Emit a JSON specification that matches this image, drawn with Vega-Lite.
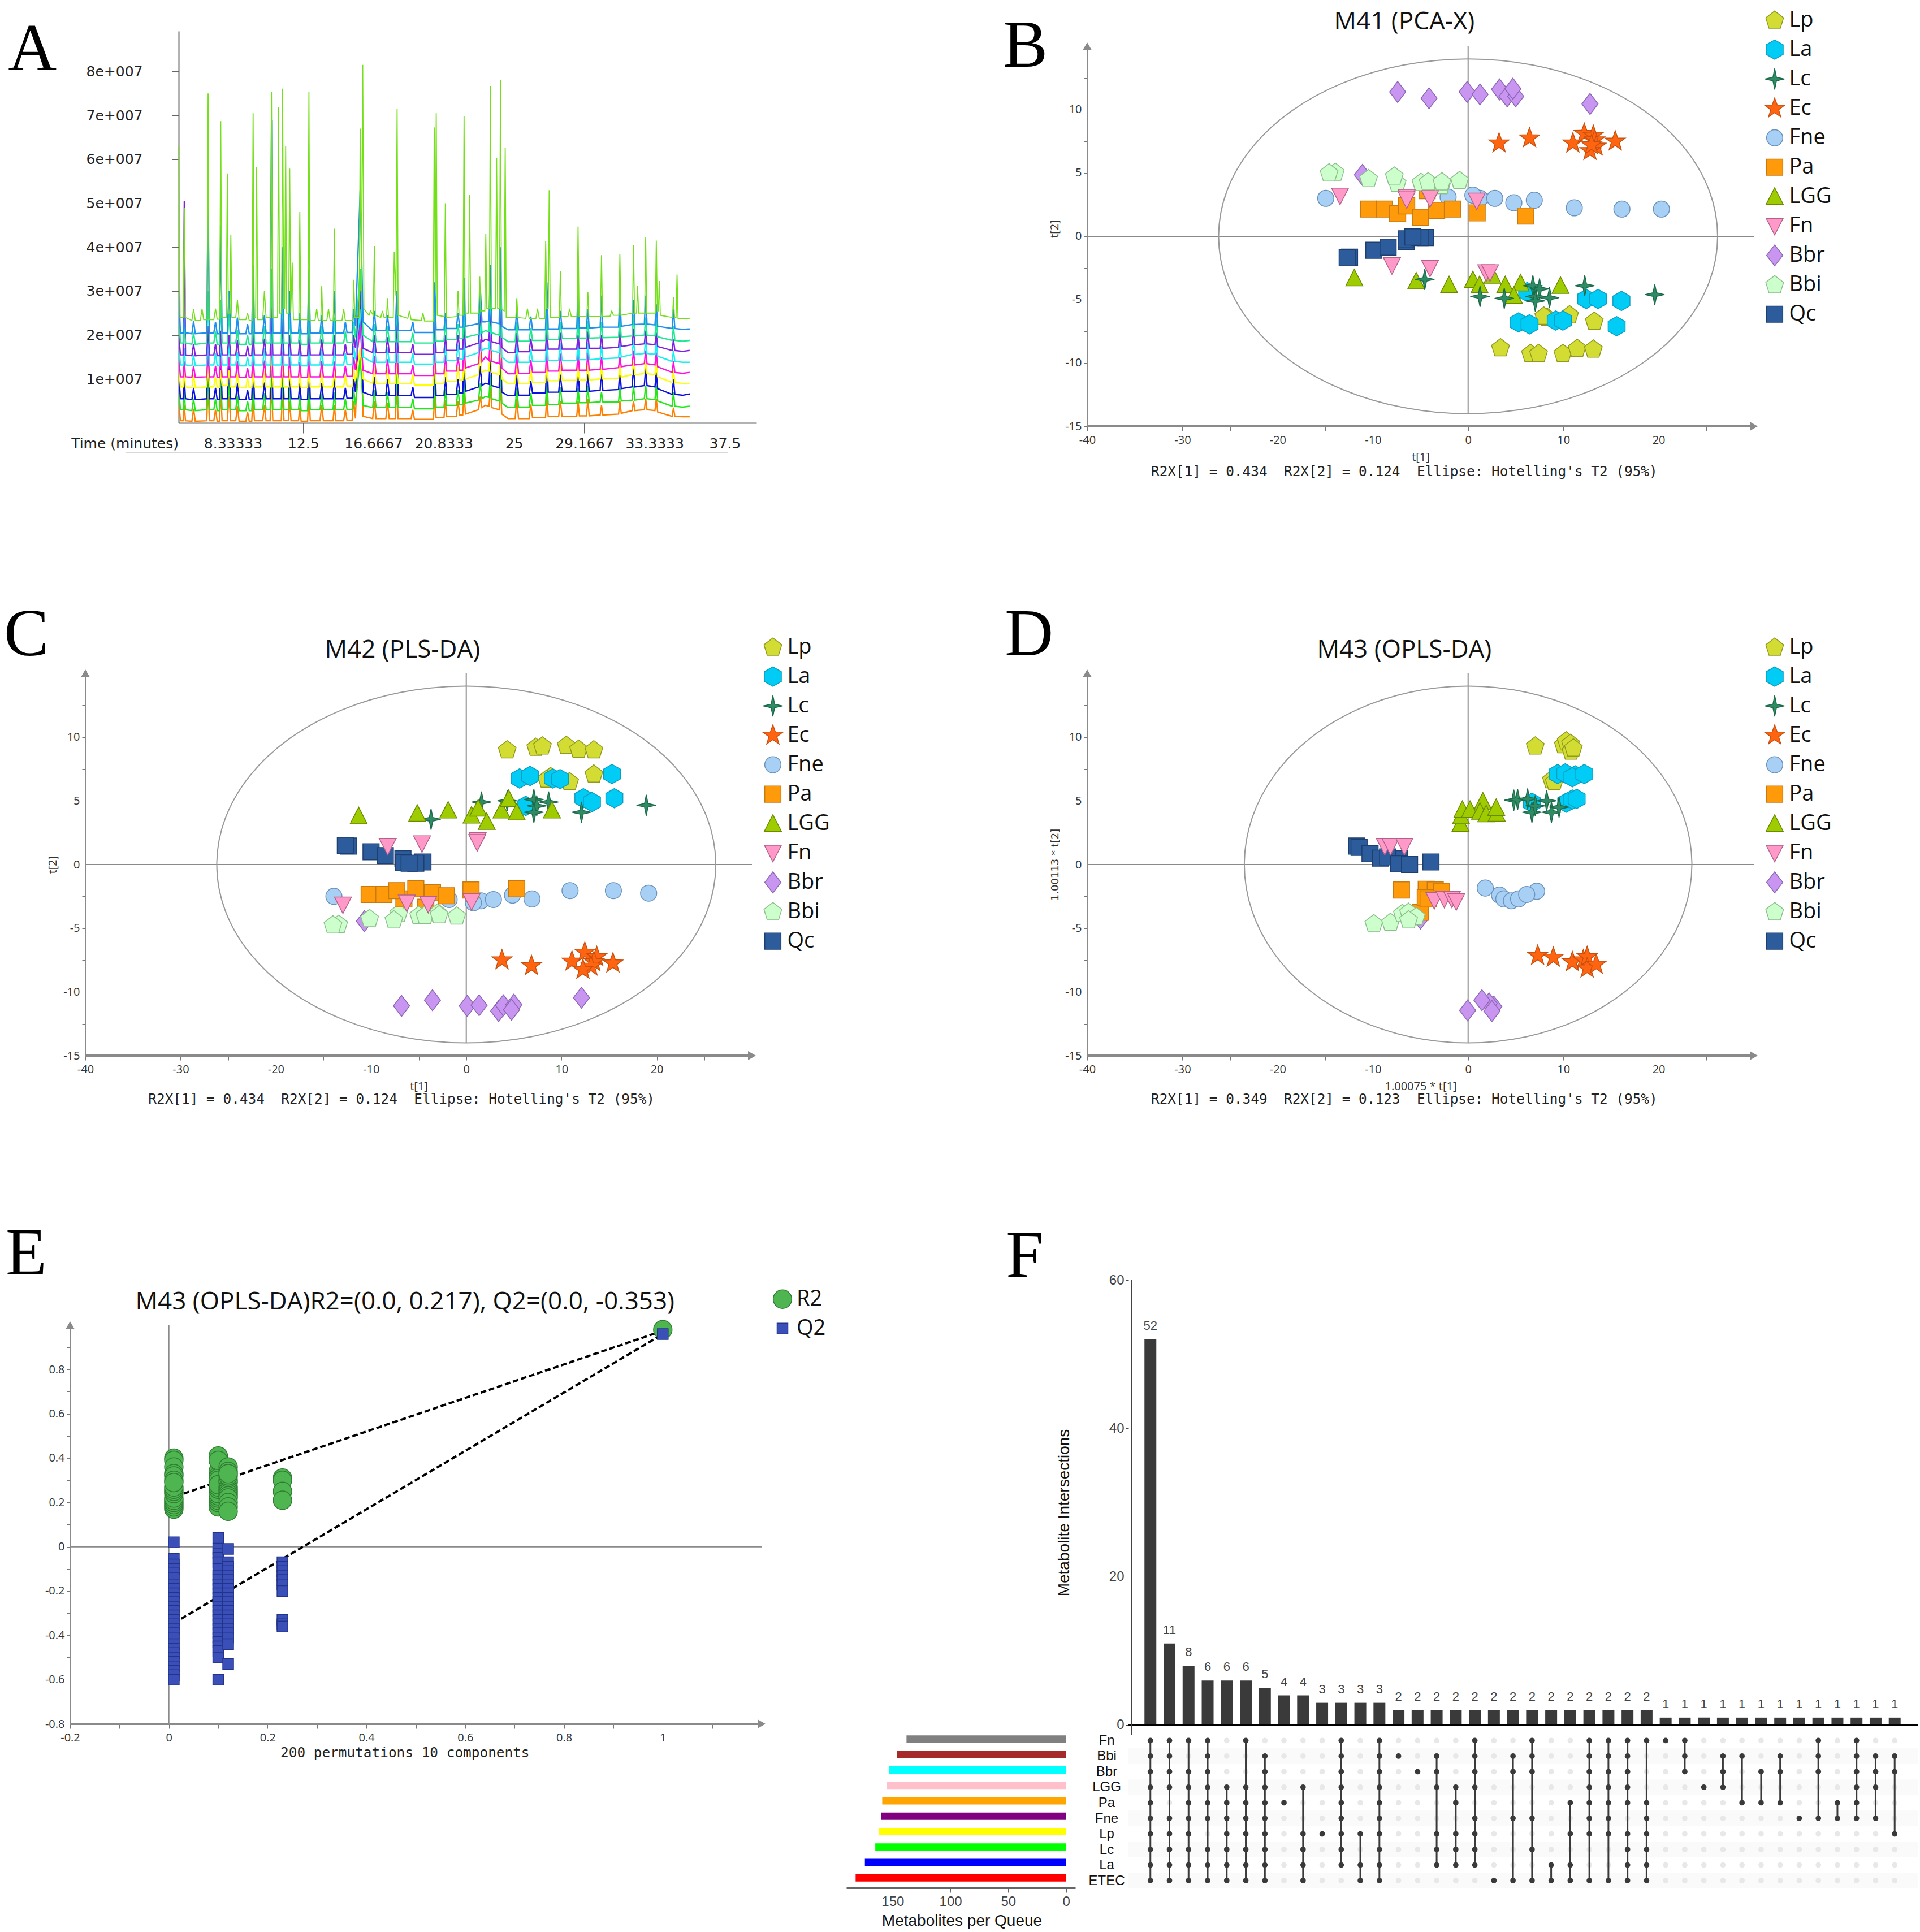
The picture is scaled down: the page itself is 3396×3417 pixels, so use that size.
{"$schema":"https://vega.github.io/schema/vega-lite/v6.json","padding":{"left":0,"top":10,"right":0,"bottom":0},"background":"white",
"config":{"view":{"stroke":null},"axis":{"grid":false,"labelFont":"Open Sans","titleFont":"Open Sans","labelFontSize":20,"titleFontSize":20,"labelColor":"#333","titleColor":"#333","titleFontWeight":"normal","tickColor":"#777","domainColor":"#777"},"text":{"font":"Open Sans"}},
"datasets":{
"pb":[
{"g":"Bbr","x":-7.4,"y":11.4},{"g":"Bbr","x":-4.1,"y":10.9},{"g":"Bbr","x":-0.1,"y":11.4},{"g":"Bbr","x":1.25,"y":11.2},{"g":"Bbr","x":3.3,"y":11.6},{"g":"Bbr","x":4.1,"y":11.05},{"g":"Bbr","x":5,"y":11.05},{"g":"Bbr","x":4.7,"y":11.65},{"g":"Bbr","x":12.8,"y":10.45},{"g":"Bbr","x":-11.1,"y":4.85},
{"g":"Ec","x":3.25,"y":7.35},{"g":"Ec","x":6.45,"y":7.75},{"g":"Ec","x":11,"y":7.35},{"g":"Ec","x":12.2,"y":8.1},{"g":"Ec","x":13.15,"y":7.95},{"g":"Ec","x":13.3,"y":7.6},{"g":"Ec","x":13.45,"y":7.1},{"g":"Ec","x":12.8,"y":6.75},{"g":"Ec","x":15.45,"y":7.5},{"g":"Ec","x":12.95,"y":7.2},
{"g":"Fne","x":-14.95,"y":3},{"g":"Fne","x":-2.1,"y":3.1},{"g":"Fne","x":1.25,"y":3},{"g":"Fne","x":0.5,"y":3.25},{"g":"Fne","x":2.8,"y":3},{"g":"Fne","x":4.8,"y":2.65},{"g":"Fne","x":6.95,"y":2.85},{"g":"Fne","x":11.15,"y":2.25},{"g":"Fne","x":16.15,"y":2.15},{"g":"Fne","x":20.3,"y":2.15},
{"g":"Pa","x":-4.3,"y":3.6},{"g":"Bbi","x":-13.95,"y":5.05},{"g":"Bbi","x":-14.6,"y":5},{"g":"Bbi","x":-10.45,"y":4.55},{"g":"Bbi","x":-7.45,"y":4.2},{"g":"Bbi","x":-7.75,"y":4.75},{"g":"Bbi","x":-4.95,"y":4.25},{"g":"Bbi","x":-2.8,"y":4},{"g":"Bbi","x":-4.2,"y":4.3},{"g":"Bbi","x":-2.75,"y":4.3},{"g":"Bbi","x":-0.9,"y":4.4},
{"g":"Pa","x":-10.45,"y":2.15},{"g":"Pa","x":-8.8,"y":2.15},{"g":"Pa","x":-7.4,"y":1.8},{"g":"Pa","x":-6.45,"y":2.4},{"g":"Pa","x":-5,"y":1.5},{"g":"Pa","x":-3.3,"y":2.05},{"g":"Pa","x":-1.65,"y":2.15},{"g":"Pa","x":0.95,"y":1.85},{"g":"Pa","x":6.05,"y":1.6},
{"g":"Qc","x":-12.45,"y":-1.65},{"g":"Qc","x":-12.7,"y":-1.7},{"g":"Qc","x":-9.9,"y":-1.1},{"g":"Qc","x":-8.4,"y":-0.85},{"g":"Qc","x":-6.5,"y":-0.4},{"g":"Qc","x":-6.5,"y":-0.2},{"g":"Qc","x":-4.5,"y":-0.1},{"g":"Qc","x":-5.05,"y":-0.1},{"g":"Qc","x":-5.8,"y":-0.05},
{"g":"Lp","x":8.3,"y":-6.4},{"g":"Lp","x":7.95,"y":-6.3},{"g":"Lp","x":10.65,"y":-6.2},{"g":"Lp","x":13.25,"y":-6.7},{"g":"Lp","x":3.4,"y":-8.8},{"g":"Lp","x":6.55,"y":-9.25},{"g":"Lp","x":7.4,"y":-9.25},{"g":"Lp","x":9.95,"y":-9.25},{"g":"Lp","x":11.45,"y":-8.85},{"g":"Lp","x":13.15,"y":-8.9},
{"g":"La","x":5.3,"y":-6.8},{"g":"La","x":6.45,"y":-6.95},{"g":"La","x":6.2,"y":-4.4},{"g":"La","x":9.2,"y":-6.65},{"g":"La","x":9.95,"y":-6.65},{"g":"La","x":12.4,"y":-4.95},{"g":"La","x":13.65,"y":-4.95},{"g":"La","x":16.1,"y":-5.1},{"g":"La","x":15.6,"y":-7.1},
{"g":"LGG","x":-11.95,"y":-3.3},{"g":"LGG","x":-5.45,"y":-3.55},{"g":"LGG","x":-2,"y":-3.85},{"g":"LGG","x":0.5,"y":-3.45},{"g":"LGG","x":2.55,"y":-3.1},{"g":"LGG","x":1.2,"y":-3.85},{"g":"LGG","x":3.9,"y":-3.85},{"g":"LGG","x":5.5,"y":-3.7},{"g":"LGG","x":9.7,"y":-3.9},{"g":"LGG","x":4.8,"y":-4.7},
{"g":"Lc","x":-4.55,"y":-3.4},{"g":"Lc","x":1.25,"y":-4.75},{"g":"Lc","x":3.8,"y":-4.9},{"g":"Lc","x":6.8,"y":-3.9},{"g":"Lc","x":7.5,"y":-4.15},{"g":"Lc","x":7.05,"y":-4.75},{"g":"Lc","x":7.05,"y":-5.1},{"g":"Lc","x":8.55,"y":-4.85},{"g":"Lc","x":12.25,"y":-3.9},{"g":"Lc","x":19.6,"y":-4.6},
{"g":"Fn","x":-13.45,"y":3.2},{"g":"Fn","x":-6.45,"y":3.1},{"g":"Fn","x":-6.45,"y":2.9},{"g":"Fn","x":-4,"y":3},{"g":"Fn","x":0.9,"y":2.8},{"g":"Fn","x":-8,"y":-2.3},{"g":"Fn","x":-4,"y":-2.5},{"g":"Fn","x":1.9,"y":-2.85},{"g":"Fn","x":2.3,"y":-2.85}],
"pc":[
{"g":"Bbr","x":-10.7,"y":-4.45},{"g":"Bbr","x":-6.8,"y":-11.1},{"g":"Bbr","x":-3.55,"y":-10.65},{"g":"Bbr","x":0.1,"y":-11.1},{"g":"Bbr","x":1.35,"y":-11.05},{"g":"Bbr","x":3.4,"y":-11.5},{"g":"Bbr","x":3.9,"y":-11.05},{"g":"Bbr","x":5,"y":-11},{"g":"Bbr","x":4.75,"y":-11.4},{"g":"Bbr","x":12.1,"y":-10.45},
{"g":"Ec","x":3.75,"y":-7.5},{"g":"Ec","x":6.85,"y":-7.95},{"g":"Ec","x":11.1,"y":-7.6},{"g":"Ec","x":12.45,"y":-6.9},{"g":"Ec","x":13.7,"y":-7.25},{"g":"Ec","x":13.4,"y":-7.65},{"g":"Ec","x":13.1,"y":-8},{"g":"Ec","x":12.25,"y":-8.25},{"g":"Ec","x":15.4,"y":-7.75},
{"g":"Fne","x":-13.9,"y":-2.5},{"g":"Fne","x":-1.8,"y":-2.75},{"g":"Fne","x":1.55,"y":-2.85},{"g":"Fne","x":0.75,"y":-3},{"g":"Fne","x":2.85,"y":-2.75},{"g":"Fne","x":4.85,"y":-2.4},{"g":"Fne","x":6.9,"y":-2.7},{"g":"Fne","x":10.9,"y":-2.05},{"g":"Fne","x":15.45,"y":-2.05},{"g":"Fne","x":19.15,"y":-2.25},
{"g":"Pa","x":-4.25,"y":-3.35},{"g":"Bbi","x":-13.4,"y":-4.7},{"g":"Bbi","x":-14,"y":-4.75},{"g":"Bbi","x":-10.15,"y":-4.25},{"g":"Bbi","x":-7.1,"y":-3.85},{"g":"Bbi","x":-7.6,"y":-4.35},{"g":"Bbi","x":-5,"y":-4},{"g":"Bbi","x":-3,"y":-3.8},{"g":"Bbi","x":-4.35,"y":-4},{"g":"Bbi","x":-2.85,"y":-3.95},{"g":"Bbi","x":-1,"y":-4.05},
{"g":"Pa","x":-6.55,"y":-2.7},{"g":"Pa","x":-10.2,"y":-2.35},{"g":"Pa","x":-8.65,"y":-2.35},{"g":"Pa","x":-7.3,"y":-2.05},{"g":"Pa","x":-5.3,"y":-1.9},{"g":"Pa","x":-3.55,"y":-2.2},{"g":"Pa","x":-2.1,"y":-2.45},{"g":"Pa","x":0.5,"y":-2},{"g":"Pa","x":5.3,"y":-1.9},
{"g":"Qc","x":-12.35,"y":1.45},{"g":"Qc","x":-12.7,"y":1.5},{"g":"Qc","x":-10,"y":1},{"g":"Qc","x":-8.5,"y":0.7},{"g":"Qc","x":-6.65,"y":0.45},{"g":"Qc","x":-6.6,"y":0.15},{"g":"Qc","x":-4.55,"y":0.2},{"g":"Qc","x":-5.3,"y":0.1},{"g":"Qc","x":-6,"y":0.1},
{"g":"Lp","x":4.3,"y":9},{"g":"Lp","x":7.3,"y":9.2},{"g":"Lp","x":8,"y":9.3},{"g":"Lp","x":10.5,"y":9.35},{"g":"Lp","x":11.8,"y":9.05},{"g":"Lp","x":13.4,"y":9},{"g":"Lp","x":13.4,"y":7.1},{"g":"Lp","x":8.85,"y":6.9},{"g":"Lp","x":8.45,"y":6.7},{"g":"Lp","x":10.85,"y":6.5},
{"g":"La","x":5.6,"y":6.75},{"g":"La","x":6.7,"y":6.95},{"g":"La","x":9.1,"y":6.75},{"g":"La","x":9.85,"y":6.7},{"g":"La","x":15.3,"y":7.1},{"g":"La","x":12.3,"y":5.2},{"g":"La","x":13.2,"y":4.9},{"g":"La","x":15.55,"y":5.2},{"g":"La","x":6.25,"y":4.6},
{"g":"Lc","x":-3.7,"y":3.55},{"g":"Lc","x":1.6,"y":4.9},{"g":"Lc","x":4.3,"y":5},{"g":"Lc","x":7.1,"y":5.1},{"g":"Lc","x":7.4,"y":4.6},{"g":"Lc","x":7.1,"y":4.1},{"g":"Lc","x":8.65,"y":4.9},{"g":"Lc","x":12.1,"y":4.1},{"g":"Lc","x":18.9,"y":4.65},
{"g":"LGG","x":-11.3,"y":3.8},{"g":"LGG","x":-5.15,"y":4},{"g":"LGG","x":-1.9,"y":4.25},{"g":"LGG","x":0.55,"y":3.85},{"g":"LGG","x":1.25,"y":4.4},{"g":"LGG","x":2.15,"y":3.35},{"g":"LGG","x":3.7,"y":4.25},{"g":"LGG","x":4.45,"y":5.15},{"g":"LGG","x":5.3,"y":4.1},{"g":"LGG","x":9,"y":4.25},
{"g":"Fn","x":-8.25,"y":1.45},{"g":"Fn","x":-4.65,"y":1.65},{"g":"Fn","x":1.2,"y":1.9},{"g":"Fn","x":1.15,"y":1.75},{"g":"Fn","x":-12.95,"y":-3.15},{"g":"Fn","x":-6.25,"y":-3},{"g":"Fn","x":-4,"y":-3.1},{"g":"Fn","x":0.55,"y":-2.9}],
"pd":[
{"g":"Bbr","x":-5,"y":-4.25},{"g":"Bbr","x":-0.05,"y":-11.45},{"g":"Bbr","x":2.7,"y":-11.15},{"g":"Bbr","x":2.2,"y":-10.9},{"g":"Bbr","x":2.5,"y":-11.5},{"g":"Bbr","x":1.45,"y":-10.65},
{"g":"Ec","x":7.3,"y":-7.15},{"g":"Ec","x":8.95,"y":-7.3},{"g":"Ec","x":10.95,"y":-7.65},{"g":"Ec","x":12.1,"y":-7.5},{"g":"Ec","x":12.5,"y":-7.25},{"g":"Ec","x":12.5,"y":-8.15},{"g":"Ec","x":13.45,"y":-7.85},
{"g":"Fne","x":1.8,"y":-1.85},{"g":"Fne","x":3.3,"y":-2.4},{"g":"Fne","x":3.75,"y":-2.7},{"g":"Fne","x":4.55,"y":-2.85},{"g":"Fne","x":5.3,"y":-2.7},{"g":"Fne","x":7.2,"y":-2.1},{"g":"Fne","x":6.15,"y":-2.35},
{"g":"Pa","x":-5,"y":-3.75},{"g":"Pa","x":-7,"y":-2},{"g":"Pa","x":-4.4,"y":-1.95},{"g":"Pa","x":-3.45,"y":-2},{"g":"Pa","x":-2.8,"y":-2.1},{"g":"Pa","x":-4.5,"y":-2.6},{"g":"Pa","x":-4.2,"y":-2.7},
{"g":"Bbi","x":-9.9,"y":-4.65},{"g":"Bbi","x":-8.15,"y":-4.55},{"g":"Bbi","x":-6.9,"y":-3.85},{"g":"Bbi","x":-6.25,"y":-3.75},{"g":"Bbi","x":-5.45,"y":-4.1},{"g":"Bbi","x":-6.25,"y":-4.35},
{"g":"Qc","x":-11.7,"y":1.45},{"g":"Qc","x":-11.45,"y":1.35},{"g":"Qc","x":-10.3,"y":0.85},{"g":"Qc","x":-9.2,"y":0.5},{"g":"Qc","x":-7.2,"y":0.45},{"g":"Qc","x":-8.45,"y":0.6},{"g":"Qc","x":-7.3,"y":0.05},{"g":"Qc","x":-6.15,"y":0},{"g":"Qc","x":-3.9,"y":0.2},
{"g":"Lp","x":7.05,"y":9.3},{"g":"Lp","x":10,"y":9.4},{"g":"Lp","x":10.3,"y":9.7},{"g":"Lp","x":10.75,"y":9.5},{"g":"Lp","x":10.8,"y":8.9},{"g":"Lp","x":11.05,"y":9.15},{"g":"Lp","x":8.75,"y":6.65},{"g":"Lp","x":9.05,"y":6.5},
{"g":"La","x":6.7,"y":4.85},{"g":"La","x":9.4,"y":7.1},{"g":"La","x":10.2,"y":7.15},{"g":"La","x":11.25,"y":7},{"g":"La","x":10.95,"y":6.85},{"g":"La","x":12.2,"y":7.1},{"g":"La","x":10.3,"y":4.85},{"g":"La","x":10.95,"y":5.1},{"g":"La","x":11.4,"y":5.15},
{"g":"LGG","x":-0.8,"y":3.2},{"g":"LGG","x":-0.75,"y":3.8},{"g":"LGG","x":-0.6,"y":4.3},{"g":"LGG","x":0.2,"y":4.3},{"g":"LGG","x":1.55,"y":4.95},{"g":"LGG","x":1.25,"y":4.15},{"g":"LGG","x":1.9,"y":3.95},{"g":"LGG","x":3,"y":4},{"g":"LGG","x":2.95,"y":4.45},
{"g":"Lc","x":4.8,"y":5.05},{"g":"Lc","x":5.2,"y":5.1},{"g":"Lc","x":6.25,"y":5.15},{"g":"Lc","x":8.25,"y":5},{"g":"Lc","x":6.7,"y":4.1},{"g":"Lc","x":7.05,"y":4.6},{"g":"Lc","x":8.75,"y":4.1},{"g":"Lc","x":9.55,"y":4.5},
{"g":"Fn","x":-8.75,"y":1.45},{"g":"Fn","x":-8.15,"y":1.45},{"g":"Fn","x":-6.7,"y":1.45},{"g":"Fn","x":-3.55,"y":-2.8},{"g":"Fn","x":-2.5,"y":-2.7},{"g":"Fn","x":-1.7,"y":-2.7},{"g":"Fn","x":-1.25,"y":-2.9}],
"ell1":[{"i":0,"x":26.2,"y":0},{"i":1,"x":25.31,"y":3.62},{"i":2,"x":22.69,"y":7},{"i":3,"x":18.53,"y":9.9},{"i":4,"x":13.1,"y":12.12},{"i":5,"x":6.78,"y":13.52},{"i":6,"x":0,"y":14},{"i":7,"x":-6.78,"y":13.52},{"i":8,"x":-13.1,"y":12.12},{"i":9,"x":-18.53,"y":9.9},{"i":10,"x":-22.69,"y":7},{"i":11,"x":-25.31,"y":3.62},{"i":12,"x":-26.2,"y":0},{"i":13,"x":-25.31,"y":-3.62},{"i":14,"x":-22.69,"y":-7},{"i":15,"x":-18.53,"y":-9.9},{"i":16,"x":-13.1,"y":-12.12},{"i":17,"x":-6.78,"y":-13.52},{"i":18,"x":0,"y":-14},{"i":19,"x":6.78,"y":-13.52},{"i":20,"x":13.1,"y":-12.12},{"i":21,"x":18.53,"y":-9.9},{"i":22,"x":22.69,"y":-7},{"i":23,"x":25.31,"y":-3.62}],
"ell2":[{"i":0,"x":23.5,"y":0},{"i":1,"x":22.7,"y":3.62},{"i":2,"x":20.35,"y":7},{"i":3,"x":16.62,"y":9.9},{"i":4,"x":11.75,"y":12.12},{"i":5,"x":6.08,"y":13.52},{"i":6,"x":0,"y":14},{"i":7,"x":-6.08,"y":13.52},{"i":8,"x":-11.75,"y":12.12},{"i":9,"x":-16.62,"y":9.9},{"i":10,"x":-20.35,"y":7},{"i":11,"x":-22.7,"y":3.62},{"i":12,"x":-23.5,"y":0},{"i":13,"x":-22.7,"y":-3.62},{"i":14,"x":-20.35,"y":-7},{"i":15,"x":-16.62,"y":-9.9},{"i":16,"x":-11.75,"y":-12.12},{"i":17,"x":-6.08,"y":-13.52},{"i":18,"x":0,"y":-14},{"i":19,"x":6.08,"y":-13.52},{"i":20,"x":11.75,"y":-12.12},{"i":21,"x":16.62,"y":-9.9},{"i":22,"x":20.35,"y":-7},{"i":23,"x":22.7,"y":-3.62}],
"cells":[{"c":0,"r":0},{"c":1,"r":0},{"c":2,"r":0},{"c":3,"r":0},{"c":5,"r":0},{"c":10,"r":0},{"c":12,"r":0},{"c":17,"r":0},{"c":20,"r":0},{"c":23,"r":0},{"c":24,"r":0},{"c":25,"r":0},{"c":26,"r":0},{"c":27,"r":0},{"c":28,"r":0},{"c":35,"r":0},{"c":37,"r":0},
{"c":0,"r":1},{"c":1,"r":1},{"c":3,"r":1},{"c":6,"r":1},{"c":10,"r":1},{"c":12,"r":1},{"c":13,"r":1},{"c":15,"r":1},{"c":17,"r":1},{"c":19,"r":1},{"c":20,"r":1},{"c":23,"r":1},{"c":24,"r":1},{"c":25,"r":1},{"c":28,"r":1},{"c":30,"r":1},{"c":31,"r":1},{"c":33,"r":1},{"c":35,"r":1},{"c":37,"r":1},{"c":38,"r":1},{"c":39,"r":1},
{"c":0,"r":2},{"c":1,"r":2},{"c":2,"r":2},{"c":3,"r":2},{"c":6,"r":2},{"c":10,"r":2},{"c":12,"r":2},{"c":14,"r":2},{"c":15,"r":2},{"c":17,"r":2},{"c":19,"r":2},{"c":20,"r":2},{"c":23,"r":2},{"c":24,"r":2},{"c":25,"r":2},{"c":28,"r":2},{"c":30,"r":2},{"c":32,"r":2},{"c":33,"r":2},{"c":35,"r":2},{"c":37,"r":2},{"c":38,"r":2},{"c":39,"r":2},
{"c":0,"r":3},{"c":1,"r":3},{"c":2,"r":3},{"c":3,"r":3},{"c":4,"r":3},{"c":5,"r":3},{"c":6,"r":3},{"c":8,"r":3},{"c":10,"r":3},{"c":12,"r":3},{"c":15,"r":3},{"c":16,"r":3},{"c":17,"r":3},{"c":23,"r":3},{"c":24,"r":3},{"c":25,"r":3},{"c":29,"r":3},{"c":30,"r":3},{"c":37,"r":3},{"c":38,"r":3},
{"c":0,"r":4},{"c":2,"r":4},{"c":3,"r":4},{"c":4,"r":4},{"c":5,"r":4},{"c":6,"r":4},{"c":7,"r":4},{"c":10,"r":4},{"c":12,"r":4},{"c":16,"r":4},{"c":22,"r":4},{"c":23,"r":4},{"c":24,"r":4},{"c":25,"r":4},{"c":26,"r":4},{"c":31,"r":4},{"c":32,"r":4},{"c":33,"r":4},{"c":36,"r":4},{"c":37,"r":4},
{"c":0,"r":5},{"c":1,"r":5},{"c":2,"r":5},{"c":3,"r":5},{"c":4,"r":5},{"c":5,"r":5},{"c":6,"r":5},{"c":10,"r":5},{"c":12,"r":5},{"c":17,"r":5},{"c":19,"r":5},{"c":20,"r":5},{"c":23,"r":5},{"c":24,"r":5},{"c":26,"r":5},{"c":34,"r":5},{"c":35,"r":5},{"c":36,"r":5},{"c":37,"r":5},{"c":38,"r":5},
{"c":0,"r":6},{"c":1,"r":6},{"c":2,"r":6},{"c":4,"r":6},{"c":5,"r":6},{"c":6,"r":6},{"c":8,"r":6},{"c":9,"r":6},{"c":10,"r":6},{"c":11,"r":6},{"c":12,"r":6},{"c":15,"r":6},{"c":16,"r":6},{"c":17,"r":6},{"c":22,"r":6},{"c":23,"r":6},{"c":24,"r":6},{"c":25,"r":6},{"c":26,"r":6},{"c":39,"r":6},
{"c":0,"r":7},{"c":1,"r":7},{"c":2,"r":7},{"c":3,"r":7},{"c":4,"r":7},{"c":5,"r":7},{"c":6,"r":7},{"c":8,"r":7},{"c":10,"r":7},{"c":12,"r":7},{"c":15,"r":7},{"c":16,"r":7},{"c":17,"r":7},{"c":20,"r":7},{"c":25,"r":7},{"c":26,"r":7},
{"c":0,"r":8},{"c":1,"r":8},{"c":2,"r":8},{"c":3,"r":8},{"c":4,"r":8},{"c":5,"r":8},{"c":6,"r":8},{"c":8,"r":8},{"c":10,"r":8},{"c":11,"r":8},{"c":12,"r":8},{"c":15,"r":8},{"c":16,"r":8},{"c":17,"r":8},{"c":21,"r":8},{"c":22,"r":8},{"c":25,"r":8},{"c":26,"r":8},
{"c":0,"r":9},{"c":1,"r":9},{"c":2,"r":9},{"c":3,"r":9},{"c":4,"r":9},{"c":5,"r":9},{"c":6,"r":9},{"c":8,"r":9},{"c":11,"r":9},{"c":12,"r":9},{"c":18,"r":9},{"c":19,"r":9},{"c":20,"r":9},{"c":21,"r":9},{"c":22,"r":9},{"c":23,"r":9},{"c":24,"r":9},{"c":25,"r":9},{"c":26,"r":9}]
},
"spacing":0,
"resolve":{"scale":{"color":"independent","fill":"independent","stroke":"independent","shape":"independent","size":"independent"}},
"vconcat":[
{"bounds":"flush","spacing":0,"resolve":{"scale":{"color":"independent","fill":"independent","stroke":"independent","shape":"independent","size":"independent"}},"hconcat":[
{"width":313,"height":1,"data":{"values":[{"k":1}]},"mark":{"type":"point","opacity":0},"encoding":{}},
{"width":1022,"height":693,"resolve":{"axis":{"x":"independent","y":"independent"}},"layer":[
{"data":{"values":[{"key":"o","t":5.12,"v":0.5}]},"mark":{"type":"point","opacity":0},"encoding":{
"x":{"field":"t","type":"quantitative","scale":{"domain":[5.115,39.38],"nice":false,"zero":false},"axis":{"values":[8.33333,12.5,16.6667,20.8333,25,29.1667,33.3333,37.5],"labelExpr":"''+datum.value","title":null,"domain":true,"domainWidth":2,"domainColor":"#666","tickSize":18,"tickColor":"#666","labelFont":"DejaVu Sans","labelFontSize":25,"labelColor":"#222","labelPadding":6,"labelFlush":false}},
"y":{"field":"v","type":"quantitative","scale":{"domain":[0,8.92],"nice":false,"zero":false},"axis":{"values":[1,2,3,4,5,6,7,8],"labelExpr":"datum.value+'e+007'","title":null,"domain":true,"domainWidth":2,"domainColor":"#666","tickSize":12,"tickColor":"#666","labelFont":"DejaVu Sans","labelFontSize":25,"labelColor":"#222","labelPadding":52}}}},
{"data":{"values":[
{"t":5.12,"o":0.5,"g":0.8,"b":1.1,"y":1.3,"m":1.5,"c":1.8,"n":2,"e":2.6,"a":3},
{"t":5.22,"o":0.05,"g":0.3,"b":0.55,"y":0.82,"m":1.05,"c":1.32,"n":1.55,"e":1.82,"a":2.05},
{"t":5.38,"o":0.05,"g":0.3,"b":0.55,"y":0.82,"m":1.05,"c":1.32,"n":1.55,"e":1.82,"a":2.05},
{"t":5.45,"o":0.4,"g":0.7,"b":1,"y":1.2,"m":1.4,"c":1.7,"n":5.05,"e":2.2,"a":2.4},
{"t":5.52,"o":0.05,"g":0.3,"b":0.55,"y":0.82,"m":1.05,"c":1.32,"n":1.55,"e":1.82,"a":2.05},
{"t":5.9,"o":0.04,"g":0.28,"b":0.53,"y":0.8,"m":1.04,"c":1.3,"n":1.53,"e":1.79,"a":2.03},
{"t":6,"o":0.32,"g":0.55,"b":0.8,"y":1.1,"m":1.3,"c":1.55,"n":1.8,"e":2.05,"a":2.32},
{"t":6.1,"o":0.04,"g":0.28,"b":0.53,"y":0.8,"m":1.04,"c":1.3,"n":1.53,"e":1.79,"a":2.03},
{"t":6.78,"o":0.05,"g":0.3,"b":0.55,"y":0.82,"m":1.05,"c":1.32,"n":1.55,"e":1.82,"a":2.05},
{"t":6.86,"o":0.8,"g":1.2,"b":1.9,"y":1.3,"m":1.6,"c":2,"n":2.2,"e":3,"a":5},
{"t":6.94,"o":0.05,"g":0.3,"b":0.55,"y":0.82,"m":1.05,"c":1.32,"n":1.55,"e":1.82,"a":2.05},
{"t":7.2,"o":0.05,"g":0.3,"b":0.55,"y":0.82,"m":1.05,"c":1.32,"n":1.55,"e":1.82,"a":2.05},
{"t":7.3,"o":0.3,"g":0.55,"b":0.8,"y":1.05,"m":1.3,"c":1.58,"n":1.8,"e":2.08,"a":2.3},
{"t":7.4,"o":0.04,"g":0.28,"b":0.53,"y":0.8,"m":1.04,"c":1.3,"n":1.53,"e":1.79,"a":2.03},
{"t":7.53,"o":0.04,"g":0.28,"b":0.53,"y":0.8,"m":1.04,"c":1.3,"n":1.53,"e":1.79,"a":2.03},
{"t":7.61,"o":0.7,"g":1,"b":1.6,"y":1.2,"m":1.5,"c":1.9,"n":2.1,"e":2.8,"a":4.5},
{"t":7.69,"o":0.05,"g":0.3,"b":0.55,"y":0.85,"m":1.05,"c":1.32,"n":1.55,"e":1.82,"a":2.05},
{"t":8,"o":0.05,"g":0.3,"b":0.55,"y":0.85,"m":1.05,"c":1.32,"n":1.55,"e":1.82,"a":2.05},
{"t":8.1,"o":0.6,"g":0.9,"b":1.3,"y":1.2,"m":1.5,"c":1.8,"n":2,"e":2.5,"a":3},
{"t":8.2,"o":0.05,"g":0.3,"b":0.55,"y":0.82,"m":1.05,"c":1.32,"n":1.55,"e":1.82,"a":2.05},
{"t":8.5,"o":0.05,"g":0.3,"b":0.55,"y":0.82,"m":1.05,"c":1.32,"n":1.55,"e":1.82,"a":2.05},
{"t":8.6,"o":0.38,"g":0.62,"b":0.9,"y":1.12,"m":1.4,"c":1.62,"n":1.88,"e":2.12,"a":2.4},
{"t":8.7,"o":0.04,"g":0.28,"b":0.53,"y":0.8,"m":1.04,"c":1.3,"n":1.53,"e":1.79,"a":2.03},
{"t":9.1,"o":0.04,"g":0.28,"b":0.53,"y":0.8,"m":1.04,"c":1.3,"n":1.53,"e":1.79,"a":2.03},
{"t":9.2,"o":0.25,"g":0.5,"b":0.75,"y":1.02,"m":1.25,"c":1.5,"n":1.75,"e":2,"a":2.25},
{"t":9.3,"o":0.04,"g":0.28,"b":0.53,"y":0.8,"m":1.04,"c":1.3,"n":1.53,"e":1.79,"a":2.03},
{"t":9.45,"o":0.04,"g":0.28,"b":0.53,"y":0.8,"m":1.04,"c":1.3,"n":1.53,"e":1.79,"a":2.03},
{"t":9.53,"o":0.6,"g":0.9,"b":1.4,"y":1.2,"m":1.5,"c":1.8,"n":2.1,"e":2.7,"a":3.6},
{"t":9.61,"o":0.05,"g":0.3,"b":0.55,"y":0.82,"m":1.05,"c":1.32,"n":1.55,"e":1.82,"a":2.05},
{"t":10.1,"o":0.05,"g":0.3,"b":0.55,"y":0.82,"m":1.05,"c":1.32,"n":1.55,"e":1.82,"a":2.05},
{"t":10.2,"o":0.4,"g":0.68,"b":0.92,"y":1.2,"m":1.42,"c":1.7,"n":1.92,"e":2.2,"a":2.45},
{"t":10.3,"o":0.05,"g":0.3,"b":0.55,"y":0.82,"m":1.05,"c":1.32,"n":1.55,"e":1.82,"a":2.05},
{"t":10.54,"o":0.05,"g":0.3,"b":0.55,"y":0.82,"m":1.05,"c":1.32,"n":1.55,"e":1.82,"a":2.05},
{"t":10.62,"o":0.9,"g":1.4,"b":2,"y":1.7,"m":2,"c":2.4,"n":2.7,"e":3.5,"a":6.9},
{"t":10.7,"o":0.05,"g":0.3,"b":0.55,"y":0.82,"m":1.05,"c":1.32,"n":1.55,"e":1.82,"a":2.05},
{"t":11.2,"o":0.05,"g":0.3,"b":0.55,"y":0.82,"m":1.05,"c":1.32,"n":1.55,"e":1.82,"a":2.05},
{"t":11.28,"o":0.7,"g":1.1,"b":1.7,"y":1.4,"m":1.7,"c":2,"n":2.4,"e":3,"a":4},
{"t":11.36,"o":0.06,"g":0.3,"b":0.55,"y":0.82,"m":1.05,"c":1.32,"n":1.55,"e":1.82,"a":2.05},
{"t":11.62,"o":0.06,"g":0.3,"b":0.55,"y":0.82,"m":1.05,"c":1.32,"n":1.55,"e":1.82,"a":2.05},
{"t":11.7,"o":0.5,"g":0.8,"b":1.2,"y":1.2,"m":1.5,"c":1.8,"n":2,"e":2.5,"a":3},
{"t":11.78,"o":0.05,"g":0.3,"b":0.55,"y":0.82,"m":1.05,"c":1.32,"n":1.55,"e":1.82,"a":2.05},
{"t":12.22,"o":0.05,"g":0.3,"b":0.55,"y":0.82,"m":1.05,"c":1.32,"n":1.55,"e":1.82,"a":2.05},
{"t":12.3,"o":0.35,"g":0.6,"b":0.9,"y":1.12,"m":1.38,"c":1.65,"n":1.88,"e":2.15,"a":2.5},
{"t":12.38,"o":0.04,"g":0.28,"b":0.53,"y":0.8,"m":1.04,"c":1.3,"n":1.53,"e":1.79,"a":2.03},
{"t":12.76,"o":0.04,"g":0.28,"b":0.53,"y":0.8,"m":1.04,"c":1.3,"n":1.53,"e":1.79,"a":2.03},
{"t":12.84,"o":0.7,"g":1,"b":1.5,"y":1.3,"m":1.6,"c":1.9,"n":2.2,"e":2.8,"a":3.5},
{"t":12.92,"o":0.05,"g":0.3,"b":0.55,"y":0.82,"m":1.05,"c":1.32,"n":1.55,"e":1.82,"a":2.05},
{"t":13.5,"o":0.05,"g":0.3,"b":0.55,"y":0.82,"m":1.05,"c":1.32,"n":1.55,"e":1.82,"a":2.05},
{"t":13.6,"o":0.4,"g":0.65,"b":0.9,"y":1.15,"m":1.4,"c":1.68,"n":1.9,"e":2.2,"a":2.45},
{"t":13.7,"o":0.05,"g":0.3,"b":0.55,"y":0.82,"m":1.05,"c":1.32,"n":1.55,"e":1.82,"a":2.05},
{"t":14.27,"o":0.05,"g":0.3,"b":0.55,"y":0.82,"m":1.05,"c":1.32,"n":1.55,"e":1.82,"a":2.05},
{"t":14.35,"o":0.4,"g":0.7,"b":1.1,"y":1.2,"m":1.4,"c":1.7,"n":2,"e":2.4,"a":3},
{"t":14.43,"o":0.05,"g":0.3,"b":0.55,"y":0.82,"m":1.05,"c":1.32,"n":1.55,"e":1.82,"a":2.05},
{"t":14.9,"o":0.05,"g":0.3,"b":0.55,"y":0.82,"m":1.05,"c":1.32,"n":1.55,"e":1.82,"a":2.05},
{"t":15,"o":0.3,"g":0.55,"b":0.8,"y":1.08,"m":1.3,"c":1.58,"n":1.8,"e":2.08,"a":2.3},
{"t":15.1,"o":0.06,"g":0.3,"b":0.56,"y":0.84,"m":1.06,"c":1.33,"n":1.56,"e":1.83,"a":2.06},
{"t":15.4,"o":0.06,"g":0.3,"b":0.56,"y":0.84,"m":1.06,"c":1.33,"n":1.56,"e":1.83,"a":2.06},
{"t":15.5,"o":0.5,"g":0.75,"b":1,"y":1.25,"m":1.5,"c":1.75,"n":2,"e":2.3,"a":2.6},
{"t":15.6,"o":0.1,"g":0.4,"b":0.7,"y":0.95,"m":1.2,"c":1.45,"n":1.7,"e":1.95,"a":2.2},
{"t":15.88,"o":3.4,"g":1.5,"b":2.8,"y":1.7,"m":2.2,"c":2.6,"n":3,"e":3.5,"a":5.3},
{"t":16.05,"o":0.15,"g":0.4,"b":0.7,"y":1,"m":1.2,"c":1.5,"n":1.7,"e":2,"a":2.3},
{"t":16.62,"o":0.1,"g":0.35,"b":0.62,"y":0.9,"m":1.12,"c":1.38,"n":1.6,"e":1.85,"a":2.1},
{"t":16.72,"o":0.5,"g":0.75,"b":1.05,"y":1.3,"m":1.52,"c":1.8,"n":2,"e":2.25,"a":2.55},
{"t":16.82,"o":0.1,"g":0.35,"b":0.62,"y":0.9,"m":1.12,"c":1.38,"n":1.6,"e":1.85,"a":2.1},
{"t":17.4,"o":0.1,"g":0.35,"b":0.62,"y":0.9,"m":1.12,"c":1.38,"n":1.6,"e":1.85,"a":2.1},
{"t":17.5,"o":0.45,"g":0.7,"b":1,"y":1.25,"m":1.45,"c":1.72,"n":1.95,"e":2.2,"a":2.45},
{"t":17.6,"o":0.1,"g":0.35,"b":0.62,"y":0.9,"m":1.12,"c":1.38,"n":1.6,"e":1.85,"a":2.1},
{"t":17.97,"o":0.1,"g":0.35,"b":0.62,"y":0.9,"m":1.12,"c":1.38,"n":1.6,"e":1.85,"a":2.1},
{"t":18.05,"o":0.8,"g":1.2,"b":2.6,"y":1.4,"m":1.7,"c":2.1,"n":2.3,"e":2.7,"a":3},
{"t":18.13,"o":0.1,"g":0.35,"b":0.62,"y":0.9,"m":1.12,"c":1.38,"n":1.6,"e":1.85,"a":2.1},
{"t":18.9,"o":0.1,"g":0.35,"b":0.62,"y":0.9,"m":1.12,"c":1.38,"n":1.6,"e":1.85,"a":2.1},
{"t":19,"o":0.3,"g":0.55,"b":0.82,"y":1.1,"m":1.32,"c":1.58,"n":1.8,"e":2.05,"a":2.3},
{"t":19.1,"o":0.08,"g":0.32,"b":0.58,"y":0.86,"m":1.08,"c":1.34,"n":1.56,"e":1.82,"a":2.06},
{"t":20.22,"o":0.08,"g":0.32,"b":0.58,"y":0.86,"m":1.08,"c":1.34,"n":1.56,"e":1.82,"a":2.06},
{"t":20.3,"o":0.6,"g":1,"b":1.6,"y":1.5,"m":1.8,"c":2.2,"n":2.5,"e":2.9,"a":3.2},
{"t":20.38,"o":0.12,"g":0.36,"b":0.62,"y":0.9,"m":1.12,"c":1.38,"n":1.6,"e":1.86,"a":2.12},
{"t":20.85,"o":0.12,"g":0.36,"b":0.62,"y":0.9,"m":1.12,"c":1.38,"n":1.6,"e":1.86,"a":2.12},
{"t":20.93,"o":0.52,"g":0.78,"b":1.05,"y":1.3,"m":1.55,"c":1.8,"n":2,"e":2.3,"a":2.5},
{"t":21.01,"o":0.15,"g":0.4,"b":0.65,"y":0.95,"m":1.18,"c":1.42,"n":1.65,"e":1.9,"a":2.15},
{"t":21.58,"o":0.15,"g":0.4,"b":0.65,"y":0.95,"m":1.18,"c":1.42,"n":1.65,"e":1.9,"a":2.15},
{"t":21.68,"o":0.5,"g":0.75,"b":1,"y":1.28,"m":1.5,"c":1.78,"n":2,"e":2.25,"a":2.5},
{"t":21.78,"o":0.18,"g":0.42,"b":0.68,"y":0.98,"m":1.2,"c":1.45,"n":1.68,"e":1.92,"a":2.18},
{"t":21.96,"o":0.18,"g":0.42,"b":0.68,"y":0.98,"m":1.2,"c":1.45,"n":1.68,"e":1.92,"a":2.18},
{"t":22.04,"o":0.7,"g":1,"b":1.5,"y":1.5,"m":1.8,"c":2.1,"n":2.3,"e":2.7,"a":3.3},
{"t":22.12,"o":0.2,"g":0.45,"b":0.72,"y":1,"m":1.25,"c":1.5,"n":1.72,"e":1.95,"a":2.2},
{"t":22.9,"o":0.3,"g":0.52,"b":0.82,"y":1.1,"m":1.35,"c":1.6,"n":1.82,"e":2.02,"a":2.26},
{"t":23,"o":0.6,"g":0.9,"b":1.3,"y":1.6,"m":1.9,"c":2.3,"n":2.6,"e":2.9,"a":3.1},
{"t":23.1,"o":0.35,"g":0.55,"b":0.85,"y":1.15,"m":1.4,"c":1.65,"n":1.85,"e":2.05,"a":2.3},
{"t":23.3,"o":0.4,"g":0.6,"b":0.9,"y":1.2,"m":1.5,"c":1.7,"n":1.9,"e":2.1,"a":2.3},
{"t":23.52,"o":0.38,"g":0.58,"b":0.88,"y":1.18,"m":1.42,"c":1.68,"n":1.88,"e":2.08,"a":2.32},
{"t":23.6,"o":0.8,"g":1.1,"b":1.6,"y":1.8,"m":2,"c":2.4,"n":2.7,"e":3,"a":3.6},
{"t":23.68,"o":0.35,"g":0.55,"b":0.85,"y":1.15,"m":1.4,"c":1.65,"n":1.85,"e":2.05,"a":2.3},
{"t":24.12,"o":0.3,"g":0.5,"b":0.8,"y":1.1,"m":1.35,"c":1.6,"n":1.8,"e":2,"a":2.26},
{"t":24.2,"o":0.8,"g":1.2,"b":1.8,"y":1.9,"m":2.2,"c":2.6,"n":2.8,"e":3.2,"a":4},
{"t":24.28,"o":0.2,"g":0.45,"b":0.7,"y":1,"m":1.25,"c":1.5,"n":1.72,"e":1.95,"a":2.2},
{"t":24.65,"o":0.1,"g":0.35,"b":0.62,"y":0.9,"m":1.12,"c":1.38,"n":1.6,"e":1.85,"a":2.12},
{"t":25.07,"o":0.1,"g":0.35,"b":0.62,"y":0.9,"m":1.12,"c":1.38,"n":1.6,"e":1.85,"a":2.12},
{"t":25.17,"o":0.55,"g":0.8,"b":1.08,"y":1.35,"m":1.57,"c":1.83,"n":2.05,"e":2.3,"a":2.58},
{"t":25.27,"o":0.1,"g":0.36,"b":0.63,"y":0.9,"m":1.13,"c":1.38,"n":1.62,"e":1.86,"a":2.12},
{"t":25.9,"o":0.1,"g":0.36,"b":0.63,"y":0.9,"m":1.13,"c":1.38,"n":1.62,"e":1.86,"a":2.12},
{"t":26,"o":0.42,"g":0.68,"b":0.95,"y":1.2,"m":1.43,"c":1.68,"n":1.92,"e":2.16,"a":2.42},
{"t":26.1,"o":0.12,"g":0.4,"b":0.68,"y":0.92,"m":1.15,"c":1.4,"n":1.65,"e":1.88,"a":2.12},
{"t":26.87,"o":0.12,"g":0.4,"b":0.68,"y":0.92,"m":1.15,"c":1.4,"n":1.65,"e":1.88,"a":2.12},
{"t":26.95,"o":0.6,"g":1,"b":1.5,"y":1.4,"m":1.7,"c":2,"n":2.2,"e":2.6,"a":3.2},
{"t":27.03,"o":0.15,"g":0.42,"b":0.7,"y":0.96,"m":1.18,"c":1.42,"n":1.68,"e":1.9,"a":2.14},
{"t":27.65,"o":0.15,"g":0.42,"b":0.7,"y":0.96,"m":1.18,"c":1.42,"n":1.68,"e":1.9,"a":2.14},
{"t":27.75,"o":0.5,"g":0.82,"b":1.1,"y":1.35,"m":1.58,"c":1.82,"n":2.05,"e":2.3,"a":2.55},
{"t":27.85,"o":0.15,"g":0.45,"b":0.72,"y":0.97,"m":1.2,"c":1.42,"n":1.68,"e":1.92,"a":2.15},
{"t":28.72,"o":0.15,"g":0.45,"b":0.72,"y":0.97,"m":1.2,"c":1.42,"n":1.68,"e":1.92,"a":2.15},
{"t":28.8,"o":0.5,"g":0.8,"b":1.3,"y":1.3,"m":1.6,"c":1.9,"n":2,"e":2.4,"a":3},
{"t":28.88,"o":0.16,"g":0.46,"b":0.72,"y":0.98,"m":1.2,"c":1.44,"n":1.7,"e":1.93,"a":2.16},
{"t":29.3,"o":0.16,"g":0.46,"b":0.72,"y":0.98,"m":1.2,"c":1.44,"n":1.7,"e":1.93,"a":2.16},
{"t":29.38,"o":0.55,"g":0.85,"b":1.12,"y":1.36,"m":1.6,"c":1.82,"n":2.08,"e":2.32,"a":2.6},
{"t":29.46,"o":0.16,"g":0.46,"b":0.72,"y":0.98,"m":1.2,"c":1.44,"n":1.7,"e":1.93,"a":2.16},
{"t":30.11,"o":0.18,"g":0.48,"b":0.74,"y":1,"m":1.22,"c":1.46,"n":1.7,"e":1.94,"a":2.18},
{"t":30.19,"o":0.4,"g":0.7,"b":1.2,"y":1.25,"m":1.5,"c":1.75,"n":2,"e":2.3,"a":2.9},
{"t":30.27,"o":0.18,"g":0.48,"b":0.74,"y":1,"m":1.22,"c":1.46,"n":1.7,"e":1.94,"a":2.18},
{"t":31.2,"o":0.2,"g":0.48,"b":0.76,"y":1.02,"m":1.26,"c":1.48,"n":1.72,"e":1.95,"a":2.18},
{"t":31.28,"o":0.5,"g":0.8,"b":1.2,"y":1.3,"m":1.5,"c":1.8,"n":2.1,"e":2.4,"a":2.9},
{"t":31.36,"o":0.22,"g":0.5,"b":0.78,"y":1.04,"m":1.28,"c":1.5,"n":1.74,"e":1.96,"a":2.2},
{"t":32.01,"o":0.28,"g":0.52,"b":0.82,"y":1.1,"m":1.32,"c":1.56,"n":1.78,"e":1.98,"a":2.24},
{"t":32.09,"o":0.5,"g":0.85,"b":1.3,"y":1.4,"m":1.65,"c":1.9,"n":2.15,"e":2.45,"a":2.8},
{"t":32.17,"o":0.28,"g":0.52,"b":0.82,"y":1.1,"m":1.32,"c":1.56,"n":1.78,"e":1.98,"a":2.24},
{"t":32.73,"o":0.3,"g":0.55,"b":0.85,"y":1.12,"m":1.35,"c":1.58,"n":1.8,"e":2,"a":2.25},
{"t":32.81,"o":0.55,"g":0.85,"b":1.25,"y":1.4,"m":1.65,"c":1.9,"n":2.1,"e":2.4,"a":2.9},
{"t":32.89,"o":0.3,"g":0.55,"b":0.85,"y":1.12,"m":1.35,"c":1.58,"n":1.8,"e":2,"a":2.25},
{"t":33.36,"o":0.28,"g":0.53,"b":0.82,"y":1.1,"m":1.32,"c":1.56,"n":1.78,"e":1.98,"a":2.23},
{"t":33.44,"o":0.55,"g":0.85,"b":1.15,"y":1.4,"m":1.6,"c":1.85,"n":2.05,"e":2.35,"a":2.7},
{"t":33.52,"o":0.25,"g":0.5,"b":0.78,"y":1.05,"m":1.28,"c":1.52,"n":1.74,"e":1.96,"a":2.2},
{"t":34.38,"o":0.15,"g":0.38,"b":0.65,"y":0.92,"m":1.15,"c":1.4,"n":1.65,"e":1.88,"a":2.15},
{"t":34.46,"o":0.35,"g":0.7,"b":1,"y":1.2,"m":1.4,"c":1.65,"n":1.9,"e":2.2,"a":2.6},
{"t":34.54,"o":0.15,"g":0.38,"b":0.65,"y":0.92,"m":1.15,"c":1.4,"n":1.65,"e":1.88,"a":2.15},
{"t":35,"o":0.14,"g":0.36,"b":0.63,"y":0.9,"m":1.13,"c":1.38,"n":1.63,"e":1.86,"a":2.13},
{"t":35.42,"o":0.14,"g":0.38,"b":0.66,"y":0.9,"m":1.15,"c":1.38,"n":1.65,"e":1.88,"a":2.14}
]},"transform":[{"fold":["o","g","b","y","m","c","n","e","a"]}],"mark":{"type":"line","strokeWidth":2.4,"clip":true},"encoding":{
"x":{"field":"t","type":"quantitative","axis":null},"y":{"field":"value","type":"quantitative","axis":null},
"color":{"field":"key","type":"nominal","legend":null,"scale":{"domain":["o","g","b","y","m","c","n","e","a"],"range":["#ff8000","#22e81a","#0a10e0","#ffff00","#ff10e0","#19f0f0","#8020e0","#20e890","#1e90f0"]}}}},
{"data":{"values":[{"t":5.12,"v":6.3},{"t":5.2,"v":2.4},{"t":5.38,"v":2.4},{"t":5.45,"v":4.9},{"t":5.52,"v":2.4},{"t":5.9,"v":2.33},{"t":6,"v":2.6},{"t":6.1,"v":2.33},{"t":6.4,"v":2.33},{"t":6.5,"v":2.6},{"t":6.6,"v":2.35},{"t":6.8,"v":2.35},{"t":6.86,"v":7.5},{"t":6.92,"v":2.35},{"t":7.2,"v":2.35},{"t":7.3,"v":2.6},{"t":7.4,"v":2.36},{"t":7.55,"v":2.36},{"t":7.61,"v":6.87},{"t":7.67,"v":2.4},{"t":7.94,"v":2.4},{"t":8,"v":5.68},{"t":8.06,"v":2.5},{"t":8.15,"v":2.5},{"t":8.21,"v":4.28},{"t":8.27,"v":2.4},{"t":8.5,"v":2.4},{"t":8.6,"v":2.8},{"t":8.7,"v":2.35},{"t":9.1,"v":2.35},{"t":9.2,"v":2.5},{"t":9.3,"v":2.33},{"t":9.47,"v":2.33},{"t":9.53,"v":7.05},{"t":9.59,"v":2.4},{"t":9.68,"v":2.4},{"t":9.74,"v":5.82},{"t":9.8,"v":2.35},{"t":10.1,"v":2.35},{"t":10.2,"v":3},{"t":10.3,"v":2.4},{"t":10.56,"v":2.4},{"t":10.62,"v":7.54},{"t":10.68,"v":2.4},{"t":10.98,"v":2.4},{"t":11.04,"v":7.19},{"t":11.1,"v":2.5},{"t":11.22,"v":2.5},{"t":11.28,"v":7.61},{"t":11.34,"v":2.6},{"t":11.4,"v":2.6},{"t":11.46,"v":6.3},{"t":11.52,"v":2.5},{"t":11.64,"v":2.5},{"t":11.7,"v":5.79},{"t":11.76,"v":2.5},{"t":11.85,"v":3.65},{"t":11.92,"v":2.35},{"t":12.24,"v":2.35},{"t":12.3,"v":4.8},{"t":12.36,"v":2.35},{"t":12.78,"v":2.35},{"t":12.84,"v":7.54},{"t":12.9,"v":2.33},{"t":13.2,"v":2.33},{"t":13.3,"v":2.6},{"t":13.4,"v":2.33},{"t":13.54,"v":2.33},{"t":13.6,"v":3.12},{"t":13.66,"v":2.33},{"t":13.9,"v":2.33},{"t":14,"v":2.6},{"t":14.1,"v":2.33},{"t":14.29,"v":2.33},{"t":14.35,"v":4.42},{"t":14.41,"v":2.33},{"t":14.8,"v":2.33},{"t":14.9,"v":2.6},{"t":15,"v":2.33},{"t":15.44,"v":2.33},{"t":15.5,"v":3.26},{"t":15.56,"v":2.4},{"t":15.82,"v":2.4},{"t":15.88,"v":6.7},{"t":15.95,"v":3},{"t":16.03,"v":8.15},{"t":16.1,"v":2.6},{"t":16.4,"v":2.45},{"t":16.5,"v":2.55},{"t":16.66,"v":2.45},{"t":16.72,"v":4.03},{"t":16.78,"v":2.45},{"t":17.1,"v":2.4},{"t":17.2,"v":2.55},{"t":17.3,"v":2.4},{"t":17.44,"v":2.4},{"t":17.5,"v":2.84},{"t":17.56,"v":2.4},{"t":17.84,"v":2.4},{"t":17.9,"v":3.9},{"t":18,"v":2.9},{"t":18.07,"v":7.15},{"t":18.13,"v":2.45},{"t":18.7,"v":2.38},{"t":18.8,"v":2.55},{"t":18.9,"v":2.35},{"t":19.5,"v":2.33},{"t":19.6,"v":2.5},{"t":19.7,"v":2.32},{"t":20.21,"v":2.32},{"t":20.27,"v":6.73},{"t":20.33,"v":3},{"t":20.39,"v":7.05},{"t":20.45,"v":2.45},{"t":20.87,"v":2.42},{"t":20.93,"v":5},{"t":20.99,"v":2.4},{"t":21.62,"v":2.42},{"t":21.68,"v":3},{"t":21.74,"v":2.45},{"t":21.98,"v":2.45},{"t":22.04,"v":6.98},{"t":22.1,"v":2.5},{"t":22.31,"v":2.5},{"t":22.37,"v":5.2},{"t":22.43,"v":2.5},{"t":22.91,"v":2.5},{"t":22.97,"v":3.33},{"t":23.03,"v":2.55},{"t":23.27,"v":2.55},{"t":23.33,"v":4.3},{"t":23.39,"v":2.6},{"t":23.54,"v":2.6},{"t":23.6,"v":7.67},{"t":23.66,"v":2.6},{"t":23.91,"v":2.6},{"t":23.97,"v":6.03},{"t":24.03,"v":2.6},{"t":24.14,"v":2.6},{"t":24.2,"v":7.8},{"t":24.26,"v":2.6},{"t":24.42,"v":2.55},{"t":24.48,"v":6.26},{"t":24.54,"v":2.4},{"t":25.11,"v":2.4},{"t":25.17,"v":2.84},{"t":25.23,"v":2.4},{"t":25.7,"v":2.38},{"t":25.8,"v":2.6},{"t":25.9,"v":2.38},{"t":26.3,"v":2.38},{"t":26.4,"v":2.6},{"t":26.5,"v":2.38},{"t":26.82,"v":2.38},{"t":26.88,"v":4.14},{"t":26.94,"v":2.6},{"t":27.03,"v":2.6},{"t":27.09,"v":5.3},{"t":27.15,"v":2.4},{"t":27.69,"v":2.4},{"t":27.75,"v":3.45},{"t":27.81,"v":2.42},{"t":28.2,"v":2.42},{"t":28.3,"v":2.6},{"t":28.4,"v":2.42},{"t":28.74,"v":2.42},{"t":28.8,"v":4.47},{"t":28.86,"v":2.42},{"t":29.32,"v":2.42},{"t":29.38,"v":2.98},{"t":29.44,"v":2.42},{"t":30.13,"v":2.42},{"t":30.19,"v":3.82},{"t":30.25,"v":2.42},{"t":30.7,"v":2.43},{"t":30.8,"v":2.55},{"t":30.9,"v":2.45},{"t":31.22,"v":2.45},{"t":31.28,"v":3.84},{"t":31.34,"v":2.45},{"t":32.03,"v":2.5},{"t":32.09,"v":4.05},{"t":32.15,"v":2.5},{"t":32.27,"v":2.5},{"t":32.33,"v":3.12},{"t":32.39,"v":2.5},{"t":32.75,"v":2.5},{"t":32.81,"v":4.23},{"t":32.87,"v":2.5},{"t":33.38,"v":2.5},{"t":33.44,"v":4.15},{"t":33.5,"v":2.55},{"t":33.56,"v":2.55},{"t":33.62,"v":3.23},{"t":33.68,"v":2.45},{"t":34.4,"v":2.4},{"t":34.46,"v":2.86},{"t":34.52,"v":2.4},{"t":34.61,"v":2.4},{"t":34.67,"v":3.38},{"t":34.73,"v":2.38},{"t":35.42,"v":2.38}]},"mark":{"type":"line","strokeWidth":1.8,"color":"#74e01a"},"encoding":{"x":{"field":"t","type":"quantitative","axis":null},"y":{"field":"v","type":"quantitative","axis":null}}},
{"data":{"values":[{"a":1.96,"b":37.7,"v":-0.68}]},"mark":{"type":"rule","color":"#d8d8d8","strokeWidth":1.5},"encoding":{"x":{"field":"a","type":"quantitative","axis":null},"x2":{"field":"b"},"y":{"field":"v","type":"quantitative","axis":null}}},
{"data":{"values":[{"t":5.115,"v":-0.48,"label":"Time (minutes)"}]},"mark":{"type":"text","font":"DejaVu Sans","fontSize":25,"align":"right","baseline":"middle","color":"#222"},"encoding":{"x":{"field":"t","type":"quantitative","axis":null},"y":{"field":"v","type":"quantitative","axis":null},"text":{"field":"label"}}},
{"data":{"values":[{"t":-3.56,"v":8.5,"label":"A"}]},"mark":{"type":"text","font":"Liberation Serif","fontSize":119,"align":"center","baseline":"middle","color":"#000"},"encoding":{"x":{"field":"t","type":"quantitative","axis":null},"y":{"field":"v","type":"quantitative","axis":null},"text":{"field":"label"}}}
]},
{"width":585,"height":1,"data":{"values":[{"k":1}]},"mark":{"type":"point","opacity":0},"encoding":{}},
{"width":1179,"height":699,"resolve":{"axis":{"x":"independent","y":"independent"}},"layer":[
{"data":{"values":[{"a":-40,"b":30,"y":0}]},"mark":{"type":"rule","color":"#8a8a8a","strokeWidth":2},"encoding":{
"x":{"field":"a","type":"quantitative","scale":{"domain":[-40,30],"nice":false,"zero":false},"axis":{"values":[-40,-35,-30,-25,-20,-15,-10,-5,0,5,10,15,20,25],"labelExpr":"datum.value%10==0&&datum.value<=20?''+datum.value:''","title":"t[1]","titlePadding":10,"domain":false,"tickSize":8,"labelPadding":6,"labelFlush":false}},
"x2":{"field":"b"},
"y":{"field":"y","type":"quantitative","scale":{"domain":[-15,16.2],"nice":false,"zero":false},"axis":{"values":[-15,-12.5,-10,-7.5,-5,-2.5,0,2.5,5,7.5,10,12.5],"labelExpr":"datum.value%5==0?''+datum.value:''","title":"t[2]","titlePadding":8,"domain":false,"tickSize":6,"labelPadding":4,"labelFlush":false}}}},
{"data":{"values":[{"a":-40,"b":30,"y":-15}]},"mark":{"type":"rule","color":"#8a8a8a","strokeWidth":4},"encoding":{"x":{"field":"a","type":"quantitative","axis":null},"x2":{"field":"b"},"y":{"field":"y","type":"quantitative","axis":null}}},
{"data":{"values":[{"x":0,"y":15,"y2":-14},{"x":-40,"y":15,"y2":-15}]},"mark":{"type":"rule","color":"#8a8a8a","strokeWidth":2},"encoding":{"x":{"field":"x","type":"quantitative","axis":null},"y":{"field":"y","type":"quantitative","axis":null},"y2":{"field":"y2"}}},
{"data":{"values":[{"x":30,"y":-15}]},"mark":{"type":"point","shape":"triangle-right","filled":true,"size":260,"color":"#8a8a8a","opacity":1},"encoding":{"x":{"field":"x","type":"quantitative","axis":null},"y":{"field":"y","type":"quantitative","axis":null}}},
{"data":{"values":[{"x":-40,"y":15}]},"mark":{"type":"point","shape":"triangle-up","filled":true,"size":260,"color":"#8a8a8a","opacity":1},"encoding":{"x":{"field":"x","type":"quantitative","axis":null},"y":{"field":"y","type":"quantitative","axis":null}}},
{"data":{"name":"ell1"},"mark":{"type":"line","interpolate":"cardinal-closed","color":"#999","strokeWidth":2},"encoding":{"x":{"field":"x","type":"quantitative","axis":null},"y":{"field":"y","type":"quantitative","axis":null},"order":{"field":"i"}}},
{"data":{"name":"pb"},"mark":{"type":"point","filled":true,"size":820,"opacity":1,"strokeWidth":1.5},"encoding":{"x":{"field":"x","type":"quantitative","axis":null},"y":{"field":"y","type":"quantitative","axis":null},
"fill":{"field":"g","type":"nominal","scale":{"domain":["Lp","La","Lc","Ec","Fne","Pa","LGG","Fn","Bbr","Bbi","Qc"],"range":["#d2dc32","#00ccf5","#2e8b64","#ff6410","#a8d0f5","#ff9b0a","#9fcc00","#ff99c8","#c896f0","#ccffcc","#2c5c9c"]},"legend":{"title":null,"orient":"none","legendX":1197,"legendY":-45,"labelFont":"Open Sans","labelFontSize":38,"labelColor":"#111","symbolSize":820,"symbolStrokeWidth":1.5,"rowPadding":0,"clipHeight":51.5,"labelOffset":6.5}},
"stroke":{"field":"g","type":"nominal","scale":{"domain":["Lp","La","Lc","Ec","Fne","Pa","LGG","Fn","Bbr","Bbi","Qc"],"range":["#8f9a1f","#0a9fc0","#1b6a4a","#c8500e","#6a92bd","#c77a10","#6a8a00","#b4608c","#8c64b4","#8cbf8c","#1d3f6f"]},"legend":{"title":null,"orient":"none","legendX":1197,"legendY":-45,"labelFont":"Open Sans","labelFontSize":38,"labelColor":"#111","symbolSize":820,"symbolStrokeWidth":1.5,"rowPadding":0,"clipHeight":51.5,"labelOffset":6.5}},
"shape":{"field":"g","type":"nominal","scale":{"domain":["Lp","La","Lc","Ec","Fne","Pa","LGG","Fn","Bbr","Bbi","Qc"],"range":["M0,-1.15L1.1,-0.3L0.7,1L-0.7,1L-1.1,-0.3Z","M0,-1.2L1.05,-0.6L1.05,0.6L0,1.2L-1.05,0.6L-1.05,-0.6Z","M0,-1.3L0.22,-0.22L1.2,0L0.22,0.22L0,1.3L-0.22,0.22L-1.2,0L-0.22,-0.22Z","M0,-1.3L0.31,-0.42L1.24,-0.4L0.49,0.16L0.76,1.05L0,0.52L-0.76,1.05L-0.49,0.16L-1.24,-0.4L-0.31,-0.42Z","circle","square","M0,-1.1L1.05,0.95L-1.05,0.95Z","M0,1.1L1.05,-0.95L-1.05,-0.95Z","M0,-1.3L1,0L0,1.3L-1,0Z","M0,-1.15L1.1,-0.3L0.7,1L-0.7,1L-1.1,-0.3Z","square"]},"legend":{"title":null,"orient":"none","legendX":1197,"legendY":-45,"labelFont":"Open Sans","labelFontSize":38,"labelColor":"#111","symbolSize":820,"symbolStrokeWidth":1.5,"rowPadding":0,"clipHeight":51.5,"labelOffset":6.5}}}},
{"data":{"values":[{"x":-6.7,"y":16.9,"label":"M41 (PCA-X)"}]},"mark":{"type":"text","font":"Open Sans","fontSize":44,"align":"center","baseline":"middle","color":"#111"},"encoding":{"x":{"field":"x","type":"quantitative","axis":null},"y":{"field":"y","type":"quantitative","axis":null},"text":{"field":"label"}}},
{"data":{"values":[{"x":-6.7,"y":-18.6,"label":"R2X[1] = 0.434\u00a0\u00a0R2X[2] = 0.124\u00a0\u00a0Ellipse: Hotelling's T2 (95%)"}]},"mark":{"type":"text","font":"DejaVu Sans Mono","fontSize":24.4,"align":"center","baseline":"middle","color":"#222"},"encoding":{"x":{"field":"x","type":"quantitative","axis":null},"y":{"field":"y","type":"quantitative","axis":null},"text":{"field":"label"}}},
{"data":{"values":[{"x":-46.5,"y":15,"label":"B"}]},"mark":{"type":"text","font":"Liberation Serif","fontSize":119,"align":"center","baseline":"middle","color":"#000"},"encoding":{"x":{"field":"x","type":"quantitative","axis":null},"y":{"field":"y","type":"quantitative","axis":null},"text":{"field":"label"}}}
]}
]},
{"width":1,"height":216,"data":{"values":[{"k":1}]},"mark":{"type":"point","opacity":0},"encoding":{}},
{"bounds":"flush","spacing":0,"resolve":{"scale":{"color":"independent","fill":"independent","stroke":"independent","shape":"independent","size":"independent"}},"hconcat":[
{"width":148,"height":1,"data":{"values":[{"k":1}]},"mark":{"type":"point","opacity":0},"encoding":{}},
{"width":1179,"height":676,"resolve":{"axis":{"x":"independent","y":"independent"}},"layer":[
{"data":{"values":[{"a":-40,"b":30,"y":0}]},"mark":{"type":"rule","color":"#8a8a8a","strokeWidth":2},"encoding":{
"x":{"field":"a","type":"quantitative","scale":{"domain":[-40,30],"nice":false,"zero":false},"axis":{"values":[-40,-35,-30,-25,-20,-15,-10,-5,0,5,10,15,20,25],"labelExpr":"datum.value%10==0&&datum.value<=20?''+datum.value:''","title":"t[1]","titlePadding":10,"domain":false,"tickSize":8,"labelPadding":6,"labelFlush":false}},
"x2":{"field":"b"},
"y":{"field":"y","type":"quantitative","scale":{"domain":[-15,15],"nice":false,"zero":false},"axis":{"values":[-15,-12.5,-10,-7.5,-5,-2.5,0,2.5,5,7.5,10,12.5],"labelExpr":"datum.value%5==0?''+datum.value:''","title":"t[2]","titlePadding":8,"domain":false,"tickSize":6,"labelPadding":4,"labelFlush":false}}}},
{"data":{"values":[{"a":-40,"b":30,"y":-15}]},"mark":{"type":"rule","color":"#8a8a8a","strokeWidth":4},"encoding":{"x":{"field":"a","type":"quantitative","axis":null},"x2":{"field":"b"},"y":{"field":"y","type":"quantitative","axis":null}}},
{"data":{"values":[{"x":0,"y":15,"y2":-14},{"x":-40,"y":15,"y2":-15}]},"mark":{"type":"rule","color":"#8a8a8a","strokeWidth":2},"encoding":{"x":{"field":"x","type":"quantitative","axis":null},"y":{"field":"y","type":"quantitative","axis":null},"y2":{"field":"y2"}}},
{"data":{"values":[{"x":30,"y":-15}]},"mark":{"type":"point","shape":"triangle-right","filled":true,"size":260,"color":"#8a8a8a","opacity":1},"encoding":{"x":{"field":"x","type":"quantitative","axis":null},"y":{"field":"y","type":"quantitative","axis":null}}},
{"data":{"values":[{"x":-40,"y":15}]},"mark":{"type":"point","shape":"triangle-up","filled":true,"size":260,"color":"#8a8a8a","opacity":1},"encoding":{"x":{"field":"x","type":"quantitative","axis":null},"y":{"field":"y","type":"quantitative","axis":null}}},
{"data":{"name":"ell1"},"mark":{"type":"line","interpolate":"cardinal-closed","color":"#999","strokeWidth":2},"encoding":{"x":{"field":"x","type":"quantitative","axis":null},"y":{"field":"y","type":"quantitative","axis":null},"order":{"field":"i"}}},
{"data":{"name":"pc"},"mark":{"type":"point","filled":true,"size":820,"opacity":1,"strokeWidth":1.5},"encoding":{"x":{"field":"x","type":"quantitative","axis":null},"y":{"field":"y","type":"quantitative","axis":null},
"fill":{"field":"g","type":"nominal","scale":{"domain":["Lp","La","Lc","Ec","Fne","Pa","LGG","Fn","Bbr","Bbi","Qc"],"range":["#d2dc32","#00ccf5","#2e8b64","#ff6410","#a8d0f5","#ff9b0a","#9fcc00","#ff99c8","#c896f0","#ccffcc","#2c5c9c"]},"legend":{"title":null,"orient":"none","legendX":1197,"legendY":-72,"labelFont":"Open Sans","labelFontSize":38,"labelColor":"#111","symbolSize":820,"symbolStrokeWidth":1.5,"rowPadding":0,"clipHeight":51.2,"labelOffset":6.5}},
"stroke":{"field":"g","type":"nominal","scale":{"domain":["Lp","La","Lc","Ec","Fne","Pa","LGG","Fn","Bbr","Bbi","Qc"],"range":["#8f9a1f","#0a9fc0","#1b6a4a","#c8500e","#6a92bd","#c77a10","#6a8a00","#b4608c","#8c64b4","#8cbf8c","#1d3f6f"]},"legend":{"title":null,"orient":"none","legendX":1197,"legendY":-72,"labelFont":"Open Sans","labelFontSize":38,"labelColor":"#111","symbolSize":820,"symbolStrokeWidth":1.5,"rowPadding":0,"clipHeight":51.2,"labelOffset":6.5}},
"shape":{"field":"g","type":"nominal","scale":{"domain":["Lp","La","Lc","Ec","Fne","Pa","LGG","Fn","Bbr","Bbi","Qc"],"range":["M0,-1.15L1.1,-0.3L0.7,1L-0.7,1L-1.1,-0.3Z","M0,-1.2L1.05,-0.6L1.05,0.6L0,1.2L-1.05,0.6L-1.05,-0.6Z","M0,-1.3L0.22,-0.22L1.2,0L0.22,0.22L0,1.3L-0.22,0.22L-1.2,0L-0.22,-0.22Z","M0,-1.3L0.31,-0.42L1.24,-0.4L0.49,0.16L0.76,1.05L0,0.52L-0.76,1.05L-0.49,0.16L-1.24,-0.4L-0.31,-0.42Z","circle","square","M0,-1.1L1.05,0.95L-1.05,0.95Z","M0,1.1L1.05,-0.95L-1.05,-0.95Z","M0,-1.3L1,0L0,1.3L-1,0Z","M0,-1.15L1.1,-0.3L0.7,1L-0.7,1L-1.1,-0.3Z","square"]},"legend":{"title":null,"orient":"none","legendX":1197,"legendY":-72,"labelFont":"Open Sans","labelFontSize":38,"labelColor":"#111","symbolSize":820,"symbolStrokeWidth":1.5,"rowPadding":0,"clipHeight":51.2,"labelOffset":6.5}}}},
{"data":{"values":[{"x":-6.7,"y":16.84,"label":"M42 (PLS-DA)"}]},"mark":{"type":"text","font":"Open Sans","fontSize":44,"align":"center","baseline":"middle","color":"#111"},"encoding":{"x":{"field":"x","type":"quantitative","axis":null},"y":{"field":"y","type":"quantitative","axis":null},"text":{"field":"label"}}},
{"data":{"values":[{"x":-6.8,"y":-18.47,"label":"R2X[1] = 0.434\u00a0\u00a0R2X[2] = 0.124\u00a0\u00a0Ellipse: Hotelling's T2 (95%)"}]},"mark":{"type":"text","font":"DejaVu Sans Mono","fontSize":24.4,"align":"center","baseline":"middle","color":"#222"},"encoding":{"x":{"field":"x","type":"quantitative","axis":null},"y":{"field":"y","type":"quantitative","axis":null},"text":{"field":"label"}}},
{"data":{"values":[{"x":-46.2,"y":18.03,"label":"C"}]},"mark":{"type":"text","font":"Liberation Serif","fontSize":119,"align":"center","baseline":"middle","color":"#000"},"encoding":{"x":{"field":"x","type":"quantitative","axis":null},"y":{"field":"y","type":"quantitative","axis":null},"text":{"field":"label"}}}
]},
{"width":593,"height":1,"data":{"values":[{"k":1}]},"mark":{"type":"point","opacity":0},"encoding":{}},
{"width":1179,"height":676,"resolve":{"axis":{"x":"independent","y":"independent"}},"layer":[
{"data":{"values":[{"a":-40,"b":30,"y":0}]},"mark":{"type":"rule","color":"#8a8a8a","strokeWidth":2},"encoding":{
"x":{"field":"a","type":"quantitative","scale":{"domain":[-40,30],"nice":false,"zero":false},"axis":{"values":[-40,-35,-30,-25,-20,-15,-10,-5,0,5,10,15,20,25],"labelExpr":"datum.value%10==0&&datum.value<=20?''+datum.value:''","title":"1.00075 * t[1]","titlePadding":10,"domain":false,"tickSize":8,"labelPadding":6,"labelFlush":false}},
"x2":{"field":"b"},
"y":{"field":"y","type":"quantitative","scale":{"domain":[-15,15],"nice":false,"zero":false},"axis":{"values":[-15,-12.5,-10,-7.5,-5,-2.5,0,2.5,5,7.5,10,12.5],"labelExpr":"datum.value%5==0?''+datum.value:''","title":"1.00113 * t[2]","titleFont":"DejaVu Sans","titleFontSize":18,"titlePadding":8,"domain":false,"tickSize":6,"labelPadding":4,"labelFlush":false}}}},
{"data":{"values":[{"a":-40,"b":30,"y":-15}]},"mark":{"type":"rule","color":"#8a8a8a","strokeWidth":4},"encoding":{"x":{"field":"a","type":"quantitative","axis":null},"x2":{"field":"b"},"y":{"field":"y","type":"quantitative","axis":null}}},
{"data":{"values":[{"x":0,"y":15,"y2":-14},{"x":-40,"y":15,"y2":-15}]},"mark":{"type":"rule","color":"#8a8a8a","strokeWidth":2},"encoding":{"x":{"field":"x","type":"quantitative","axis":null},"y":{"field":"y","type":"quantitative","axis":null},"y2":{"field":"y2"}}},
{"data":{"values":[{"x":30,"y":-15}]},"mark":{"type":"point","shape":"triangle-right","filled":true,"size":260,"color":"#8a8a8a","opacity":1},"encoding":{"x":{"field":"x","type":"quantitative","axis":null},"y":{"field":"y","type":"quantitative","axis":null}}},
{"data":{"values":[{"x":-40,"y":15}]},"mark":{"type":"point","shape":"triangle-up","filled":true,"size":260,"color":"#8a8a8a","opacity":1},"encoding":{"x":{"field":"x","type":"quantitative","axis":null},"y":{"field":"y","type":"quantitative","axis":null}}},
{"data":{"name":"ell2"},"mark":{"type":"line","interpolate":"cardinal-closed","color":"#999","strokeWidth":2},"encoding":{"x":{"field":"x","type":"quantitative","axis":null},"y":{"field":"y","type":"quantitative","axis":null},"order":{"field":"i"}}},
{"data":{"name":"pd"},"mark":{"type":"point","filled":true,"size":820,"opacity":1,"strokeWidth":1.5},"encoding":{"x":{"field":"x","type":"quantitative","axis":null},"y":{"field":"y","type":"quantitative","axis":null},
"fill":{"field":"g","type":"nominal","scale":{"domain":["Lp","La","Lc","Ec","Fne","Pa","LGG","Fn","Bbr","Bbi","Qc"],"range":["#d2dc32","#00ccf5","#2e8b64","#ff6410","#a8d0f5","#ff9b0a","#9fcc00","#ff99c8","#c896f0","#ccffcc","#2c5c9c"]},"legend":{"title":null,"orient":"none","legendX":1197,"legendY":-72,"labelFont":"Open Sans","labelFontSize":38,"labelColor":"#111","symbolSize":820,"symbolStrokeWidth":1.5,"rowPadding":0,"clipHeight":51.2,"labelOffset":6.5}},
"stroke":{"field":"g","type":"nominal","scale":{"domain":["Lp","La","Lc","Ec","Fne","Pa","LGG","Fn","Bbr","Bbi","Qc"],"range":["#8f9a1f","#0a9fc0","#1b6a4a","#c8500e","#6a92bd","#c77a10","#6a8a00","#b4608c","#8c64b4","#8cbf8c","#1d3f6f"]},"legend":{"title":null,"orient":"none","legendX":1197,"legendY":-72,"labelFont":"Open Sans","labelFontSize":38,"labelColor":"#111","symbolSize":820,"symbolStrokeWidth":1.5,"rowPadding":0,"clipHeight":51.2,"labelOffset":6.5}},
"shape":{"field":"g","type":"nominal","scale":{"domain":["Lp","La","Lc","Ec","Fne","Pa","LGG","Fn","Bbr","Bbi","Qc"],"range":["M0,-1.15L1.1,-0.3L0.7,1L-0.7,1L-1.1,-0.3Z","M0,-1.2L1.05,-0.6L1.05,0.6L0,1.2L-1.05,0.6L-1.05,-0.6Z","M0,-1.3L0.22,-0.22L1.2,0L0.22,0.22L0,1.3L-0.22,0.22L-1.2,0L-0.22,-0.22Z","M0,-1.3L0.31,-0.42L1.24,-0.4L0.49,0.16L0.76,1.05L0,0.52L-0.76,1.05L-0.49,0.16L-1.24,-0.4L-0.31,-0.42Z","circle","square","M0,-1.1L1.05,0.95L-1.05,0.95Z","M0,1.1L1.05,-0.95L-1.05,-0.95Z","M0,-1.3L1,0L0,1.3L-1,0Z","M0,-1.15L1.1,-0.3L0.7,1L-0.7,1L-1.1,-0.3Z","square"]},"legend":{"title":null,"orient":"none","legendX":1197,"legendY":-72,"labelFont":"Open Sans","labelFontSize":38,"labelColor":"#111","symbolSize":820,"symbolStrokeWidth":1.5,"rowPadding":0,"clipHeight":51.2,"labelOffset":6.5}}}},
{"data":{"values":[{"x":-6.7,"y":16.84,"label":"M43 (OPLS-DA)"}]},"mark":{"type":"text","font":"Open Sans","fontSize":44,"align":"center","baseline":"middle","color":"#111"},"encoding":{"x":{"field":"x","type":"quantitative","axis":null},"y":{"field":"y","type":"quantitative","axis":null},"text":{"field":"label"}}},
{"data":{"values":[{"x":-6.7,"y":-18.47,"label":"R2X[1] = 0.349\u00a0\u00a0R2X[2] = 0.123\u00a0\u00a0Ellipse: Hotelling's T2 (95%)"}]},"mark":{"type":"text","font":"DejaVu Sans Mono","fontSize":24.4,"align":"center","baseline":"middle","color":"#222"},"encoding":{"x":{"field":"x","type":"quantitative","axis":null},"y":{"field":"y","type":"quantitative","axis":null},"text":{"field":"label"}}},
{"data":{"values":[{"x":-46.1,"y":18.03,"label":"D"}]},"mark":{"type":"text","font":"Liberation Serif","fontSize":119,"align":"center","baseline":"middle","color":"#000"},"encoding":{"x":{"field":"x","type":"quantitative","axis":null},"y":{"field":"y","type":"quantitative","axis":null},"text":{"field":"label"}}}
]}
]},
{"width":1,"height":202,"data":{"values":[{"k":1}]},"mark":{"type":"point","opacity":0},"encoding":{}},
{"bounds":"flush","spacing":0,"resolve":{"scale":{"color":"independent","fill":"independent","stroke":"independent","shape":"independent","size":"independent"}},"hconcat":[
{"width":121,"height":1,"data":{"values":[{"k":1}]},"mark":{"type":"point","opacity":0},"encoding":{}},
{"width":1223,"height":785,"resolve":{"axis":{"x":"independent","y":"independent"}},"layer":[
{"data":{"values":[{"a":-0.2,"b":1.2,"y":0}]},"mark":{"type":"rule","color":"#8a8a8a","strokeWidth":2},"encoding":{
"x":{"field":"a","type":"quantitative","scale":{"domain":[-0.2,1.2],"nice":false,"zero":false},"axis":{"values":[-0.2,-0.1,0,0.1,0.2,0.3,0.4,0.5,0.6,0.7,0.8,0.9,1,1.1],"labelExpr":"abs(round(datum.value*10))%2==0&&datum.value<=1?''+datum.value:''","title":null,"domain":false,"tickSize":8,"labelPadding":6,"labelFlush":false}},
"x2":{"field":"b"},
"y":{"field":"y","type":"quantitative","scale":{"domain":[-0.8,1.204],"nice":false,"zero":false},"axis":{"values":[-0.8,-0.7,-0.6,-0.5,-0.4,-0.3,-0.2,-0.1,0,0.1,0.2,0.3,0.4,0.5,0.6,0.7,0.8,0.9],"labelExpr":"abs(round(datum.value*10))%2==0?''+datum.value:''","title":null,"domain":false,"tickSize":6,"labelPadding":4,"labelFlush":false}}}},
{"data":{"values":[{"a":-0.2,"b":1.2,"y":-0.8}]},"mark":{"type":"rule","color":"#8a8a8a","strokeWidth":4},"encoding":{"x":{"field":"a","type":"quantitative","axis":null},"x2":{"field":"b"},"y":{"field":"y","type":"quantitative","axis":null}}},
{"data":{"values":[{"x":0,"y":1,"y2":-0.8},{"x":-0.2,"y":1,"y2":-0.8}]},"mark":{"type":"rule","color":"#8a8a8a","strokeWidth":2},"encoding":{"x":{"field":"x","type":"quantitative","axis":null},"y":{"field":"y","type":"quantitative","axis":null},"y2":{"field":"y2"}}},
{"data":{"values":[{"x":1.2,"y":-0.8}]},"mark":{"type":"point","shape":"triangle-right","filled":true,"size":260,"color":"#8a8a8a","opacity":1},"encoding":{"x":{"field":"x","type":"quantitative","axis":null},"y":{"field":"y","type":"quantitative","axis":null}}},
{"data":{"values":[{"x":-0.2,"y":1}]},"mark":{"type":"point","shape":"triangle-up","filled":true,"size":260,"color":"#8a8a8a","opacity":1},"encoding":{"x":{"field":"x","type":"quantitative","axis":null},"y":{"field":"y","type":"quantitative","axis":null}}},
{"data":{"values":[{"k":"r","x":0.03,"y":0.24},{"k":"r","x":1,"y":0.975},{"k":"q","x":0.025,"y":-0.325},{"k":"q","x":1,"y":0.96}]},"mark":{"type":"line","color":"#000","strokeWidth":4,"strokeDash":[10,5]},"encoding":{"x":{"field":"x","type":"quantitative","axis":null},"y":{"field":"y","type":"quantitative","axis":null},"detail":{"field":"k"}}},
{"data":{"values":[
{"g":"R2","x":0.01,"y":0.4},{"g":"R2","x":0.01,"y":0.39},{"g":"R2","x":0.01,"y":0.36},{"g":"R2","x":0.01,"y":0.33},{"g":"R2","x":0.01,"y":0.32},{"g":"R2","x":0.01,"y":0.3},{"g":"R2","x":0.01,"y":0.17},{"g":"R2","x":0.01,"y":0.18},{"g":"R2","x":0.01,"y":0.19},{"g":"R2","x":0.01,"y":0.2},{"g":"R2","x":0.01,"y":0.21},{"g":"R2","x":0.01,"y":0.22},{"g":"R2","x":0.01,"y":0.24},{"g":"R2","x":0.01,"y":0.25},{"g":"R2","x":0.01,"y":0.26},{"g":"R2","x":0.01,"y":0.27},{"g":"R2","x":0.01,"y":0.29},
{"g":"R2","x":0.1,"y":0.41},{"g":"R2","x":0.1,"y":0.34},{"g":"R2","x":0.1,"y":0.32},{"g":"R2","x":0.1,"y":0.31},{"g":"R2","x":0.1,"y":0.3},{"g":"R2","x":0.1,"y":0.19},{"g":"R2","x":0.1,"y":0.18},{"g":"R2","x":0.1,"y":0.2},{"g":"R2","x":0.1,"y":0.21},{"g":"R2","x":0.1,"y":0.22},{"g":"R2","x":0.1,"y":0.23},{"g":"R2","x":0.1,"y":0.24},{"g":"R2","x":0.1,"y":0.26},{"g":"R2","x":0.1,"y":0.27},{"g":"R2","x":0.1,"y":0.39},{"g":"R2","x":0.1,"y":0.28},
{"g":"R2","x":0.12,"y":0.36},{"g":"R2","x":0.12,"y":0.34},{"g":"R2","x":0.12,"y":0.3},{"g":"R2","x":0.12,"y":0.29},{"g":"R2","x":0.12,"y":0.27},{"g":"R2","x":0.12,"y":0.26},{"g":"R2","x":0.12,"y":0.25},{"g":"R2","x":0.12,"y":0.24},{"g":"R2","x":0.12,"y":0.23},{"g":"R2","x":0.12,"y":0.22},{"g":"R2","x":0.12,"y":0.2},{"g":"R2","x":0.12,"y":0.18},{"g":"R2","x":0.12,"y":0.32},{"g":"R2","x":0.12,"y":0.33},{"g":"R2","x":0.12,"y":0.16},
{"g":"R2","x":0.23,"y":0.31},{"g":"R2","x":0.23,"y":0.3},{"g":"R2","x":0.23,"y":0.25},{"g":"R2","x":0.23,"y":0.21},{"g":"R2","x":1,"y":0.98},
{"g":"Q2","x":0.01,"y":0.02},{"g":"Q2","x":0.01,"y":-0.055},{"g":"Q2","x":0.01,"y":-0.08},{"g":"Q2","x":0.01,"y":-0.1},{"g":"Q2","x":0.01,"y":-0.12},{"g":"Q2","x":0.01,"y":-0.14},{"g":"Q2","x":0.01,"y":-0.17},{"g":"Q2","x":0.01,"y":-0.19},{"g":"Q2","x":0.01,"y":-0.21},{"g":"Q2","x":0.01,"y":-0.23},{"g":"Q2","x":0.01,"y":-0.25},{"g":"Q2","x":0.01,"y":-0.27},{"g":"Q2","x":0.01,"y":-0.29},{"g":"Q2","x":0.01,"y":-0.31},{"g":"Q2","x":0.01,"y":-0.33},{"g":"Q2","x":0.01,"y":-0.35},{"g":"Q2","x":0.01,"y":-0.37},{"g":"Q2","x":0.01,"y":-0.39},{"g":"Q2","x":0.01,"y":-0.41},{"g":"Q2","x":0.01,"y":-0.44},{"g":"Q2","x":0.01,"y":-0.46},{"g":"Q2","x":0.01,"y":-0.48},{"g":"Q2","x":0.01,"y":-0.5},{"g":"Q2","x":0.01,"y":-0.52},{"g":"Q2","x":0.01,"y":-0.54},{"g":"Q2","x":0.01,"y":-0.56},{"g":"Q2","x":0.01,"y":-0.58},{"g":"Q2","x":0.01,"y":-0.6},
{"g":"Q2","x":0.1,"y":0.04},{"g":"Q2","x":0.1,"y":-0.01},{"g":"Q2","x":0.1,"y":-0.03},{"g":"Q2","x":0.1,"y":-0.05},{"g":"Q2","x":0.1,"y":-0.07},{"g":"Q2","x":0.1,"y":-0.1},{"g":"Q2","x":0.1,"y":-0.13},{"g":"Q2","x":0.1,"y":-0.15},{"g":"Q2","x":0.1,"y":-0.17},{"g":"Q2","x":0.1,"y":-0.19},{"g":"Q2","x":0.1,"y":-0.21},{"g":"Q2","x":0.1,"y":-0.23},{"g":"Q2","x":0.1,"y":-0.25},{"g":"Q2","x":0.1,"y":-0.27},{"g":"Q2","x":0.1,"y":-0.29},{"g":"Q2","x":0.1,"y":-0.31},{"g":"Q2","x":0.1,"y":-0.33},{"g":"Q2","x":0.1,"y":-0.35},{"g":"Q2","x":0.1,"y":-0.37},{"g":"Q2","x":0.1,"y":-0.39},{"g":"Q2","x":0.1,"y":-0.41},{"g":"Q2","x":0.1,"y":-0.43},{"g":"Q2","x":0.1,"y":-0.45},{"g":"Q2","x":0.1,"y":-0.47},{"g":"Q2","x":0.1,"y":-0.5},{"g":"Q2","x":0.1,"y":-0.6},
{"g":"Q2","x":0.12,"y":-0.01},{"g":"Q2","x":0.12,"y":-0.07},{"g":"Q2","x":0.12,"y":-0.09},{"g":"Q2","x":0.12,"y":-0.11},{"g":"Q2","x":0.12,"y":-0.13},{"g":"Q2","x":0.12,"y":-0.15},{"g":"Q2","x":0.12,"y":-0.17},{"g":"Q2","x":0.12,"y":-0.19},{"g":"Q2","x":0.12,"y":-0.21},{"g":"Q2","x":0.12,"y":-0.23},{"g":"Q2","x":0.12,"y":-0.25},{"g":"Q2","x":0.12,"y":-0.27},{"g":"Q2","x":0.12,"y":-0.29},{"g":"Q2","x":0.12,"y":-0.31},{"g":"Q2","x":0.12,"y":-0.33},{"g":"Q2","x":0.12,"y":-0.35},{"g":"Q2","x":0.12,"y":-0.37},{"g":"Q2","x":0.12,"y":-0.39},{"g":"Q2","x":0.12,"y":-0.41},{"g":"Q2","x":0.12,"y":-0.44},{"g":"Q2","x":0.12,"y":-0.53},
{"g":"Q2","x":0.23,"y":-0.07},{"g":"Q2","x":0.23,"y":-0.09},{"g":"Q2","x":0.23,"y":-0.11},{"g":"Q2","x":0.23,"y":-0.13},{"g":"Q2","x":0.23,"y":-0.15},{"g":"Q2","x":0.23,"y":-0.17},{"g":"Q2","x":0.23,"y":-0.2},{"g":"Q2","x":0.23,"y":-0.33},{"g":"Q2","x":0.23,"y":-0.35},{"g":"Q2","x":0.23,"y":-0.36},{"g":"Q2","x":1,"y":0.96}
]},"mark":{"type":"point","filled":true,"opacity":1,"strokeWidth":1.5},"encoding":{"x":{"field":"x","type":"quantitative","axis":null},"y":{"field":"y","type":"quantitative","axis":null},
"fill":{"field":"g","type":"nominal","scale":{"domain":["R2","Q2"],"range":["#4fb550","#3a4fb8"]},"legend":{"title":null,"orient":"none","legendX":1241,"legendY":8,"labelFont":"Open Sans","labelFontSize":38,"labelColor":"#111","symbolStrokeWidth":1.5,"rowPadding":0,"clipHeight":51.5,"labelOffset":6}},
"stroke":{"field":"g","type":"nominal","scale":{"domain":["R2","Q2"],"range":["#2e7d32","#23338a"]},"legend":{"title":null,"orient":"none","legendX":1241,"legendY":8,"labelFont":"Open Sans","labelFontSize":38,"labelColor":"#111","symbolStrokeWidth":1.5,"rowPadding":0,"clipHeight":51.5,"labelOffset":6}},
"shape":{"field":"g","type":"nominal","scale":{"domain":["R2","Q2"],"range":["circle","square"]},"legend":{"title":null,"orient":"none","legendX":1241,"legendY":8,"labelFont":"Open Sans","labelFontSize":38,"labelColor":"#111","symbolStrokeWidth":1.5,"rowPadding":0,"clipHeight":51.5,"labelOffset":6}},
"size":{"field":"g","type":"nominal","scale":{"domain":["R2","Q2"],"range":[1075,361]},"legend":{"title":null,"orient":"none","legendX":1241,"legendY":8,"labelFont":"Open Sans","labelFontSize":38,"labelColor":"#111","symbolStrokeWidth":1.5,"rowPadding":0,"clipHeight":51.5,"labelOffset":6}}}},
{"data":{"values":[{"x":0.478,"y":1.105,"label":"M43 (OPLS-DA)R2=(0.0, 0.217), Q2=(0.0, -0.353)"}]},"mark":{"type":"text","font":"Open Sans","fontSize":44,"align":"center","baseline":"middle","color":"#111"},"encoding":{"x":{"field":"x","type":"quantitative","axis":null},"y":{"field":"y","type":"quantitative","axis":null},"text":{"field":"label"}}},
{"data":{"values":[{"x":0.478,"y":-0.934,"label":"200 permutations 10 components"}]},"mark":{"type":"text","font":"DejaVu Sans Mono","fontSize":24.4,"align":"center","baseline":"middle","color":"#222"},"encoding":{"x":{"field":"x","type":"quantitative","axis":null},"y":{"field":"y","type":"quantitative","axis":null},"text":{"field":"label"}}},
{"data":{"values":[{"x":-0.289,"y":1.321,"label":"E"}]},"mark":{"type":"text","font":"Liberation Serif","fontSize":119,"align":"center","baseline":"middle","color":"#000"},"encoding":{"x":{"field":"x","type":"quantitative","axis":null},"y":{"field":"y","type":"quantitative","axis":null},"text":{"field":"label"}}}
]},
{"width":150,"height":1,"data":{"values":[{"k":1}]},"mark":{"type":"point","opacity":0},"encoding":{}},
{"width":405,"height":1075,"resolve":{"axis":{"x":"independent","y":"independent"}},"layer":[
{"data":{"values":[{"s":"Fn","r":0,"n":138},{"s":"Bbi","r":1,"n":146},{"s":"Bbr","r":2,"n":153},{"s":"LGG","r":3,"n":155},{"s":"Pa","r":4,"n":159},{"s":"Fne","r":5,"n":160},{"s":"Lp","r":6,"n":162},{"s":"Lc","r":7,"n":165},{"s":"La","r":8,"n":174},{"s":"ETEC","r":9,"n":182}]},"mark":{"type":"bar","orient":"horizontal","size":13},"encoding":{
"x":{"field":"n","type":"quantitative","scale":{"domain":[190,-8],"nice":false,"zero":false},"axis":{"values":[0,50,100,150],"title":"Metabolites per Queue","titleFont":"Liberation Sans","titleFontSize":28,"titleColor":"#111","titleX":204,"titlePadding":8,"labelFont":"Liberation Sans","labelFontSize":24,"labelColor":"#444","tickSize":8,"tickColor":"#666","domainColor":"#666","domainWidth":3,"labelFlush":false,"labelPadding":4}},
"y":{"field":"r","type":"quantitative","scale":{"domain":[-29.6,9.47],"nice":false,"zero":false,"reverse":true},"axis":null},
"color":{"field":"s","type":"nominal","legend":null,"scale":{"domain":["Fn","Bbi","Bbr","LGG","Pa","Fne","Lp","Lc","La","ETEC"],"range":["#808080","#a52a2a","#00ffff","#ffc0cb","#ffa500","#800080","#ffff00","#00ff00","#0000ff","#ff0000"]}}}},
{"data":{"values":[{"n":35.8,"r":-31.3,"label":"F"}]},"mark":{"type":"text","font":"Liberation Serif","fontSize":119,"align":"center","baseline":"middle","color":"#000"},"encoding":{"x":{"field":"n","type":"quantitative","axis":null},"y":{"field":"r","type":"quantitative","axis":null},"text":{"field":"label"}}}
]},
{"width":94,"height":1,"data":{"values":[{"k":1}]},"mark":{"type":"point","opacity":0},"encoding":{}},
{"width":1396,"height":1075,"resolve":{"scale":{"y":"independent"},"axis":{"y":"independent"}},"layer":[
{"data":{"values":[{"a":0.5,"b":1.5},{"a":2.5,"b":3.5},{"a":4.5,"b":5.5},{"a":6.5,"b":7.5},{"a":8.5,"b":9.47}]},"mark":{"type":"rect","color":"#fafafa"},"encoding":{"y":{"field":"a","type":"quantitative","scale":{"domain":[-29.6,9.47],"nice":false,"zero":false,"reverse":true},"axis":null},"y2":{"field":"b"}}},
{"data":{"values":[{"r":0,"cs":[0,1,2,3,4,5,6,7,8,9,10,11,12,13,14,15,16,17,18,19,20,21,22,23,24,25,26,27,28,29,30,31,32,33,34,35,36,37,38,39]},{"r":1,"cs":[0,1,2,3,4,5,6,7,8,9,10,11,12,13,14,15,16,17,18,19,20,21,22,23,24,25,26,27,28,29,30,31,32,33,34,35,36,37,38,39]},{"r":2,"cs":[0,1,2,3,4,5,6,7,8,9,10,11,12,13,14,15,16,17,18,19,20,21,22,23,24,25,26,27,28,29,30,31,32,33,34,35,36,37,38,39]},{"r":3,"cs":[0,1,2,3,4,5,6,7,8,9,10,11,12,13,14,15,16,17,18,19,20,21,22,23,24,25,26,27,28,29,30,31,32,33,34,35,36,37,38,39]},{"r":4,"cs":[0,1,2,3,4,5,6,7,8,9,10,11,12,13,14,15,16,17,18,19,20,21,22,23,24,25,26,27,28,29,30,31,32,33,34,35,36,37,38,39]},{"r":5,"cs":[0,1,2,3,4,5,6,7,8,9,10,11,12,13,14,15,16,17,18,19,20,21,22,23,24,25,26,27,28,29,30,31,32,33,34,35,36,37,38,39]},{"r":6,"cs":[0,1,2,3,4,5,6,7,8,9,10,11,12,13,14,15,16,17,18,19,20,21,22,23,24,25,26,27,28,29,30,31,32,33,34,35,36,37,38,39]},{"r":7,"cs":[0,1,2,3,4,5,6,7,8,9,10,11,12,13,14,15,16,17,18,19,20,21,22,23,24,25,26,27,28,29,30,31,32,33,34,35,36,37,38,39]},{"r":8,"cs":[0,1,2,3,4,5,6,7,8,9,10,11,12,13,14,15,16,17,18,19,20,21,22,23,24,25,26,27,28,29,30,31,32,33,34,35,36,37,38,39]},{"r":9,"cs":[0,1,2,3,4,5,6,7,8,9,10,11,12,13,14,15,16,17,18,19,20,21,22,23,24,25,26,27,28,29,30,31,32,33,34,35,36,37,38,39]}]},"transform":[{"flatten":["cs"],"as":["c"]}],"mark":{"type":"point","filled":true,"size":95,"color":"#e8e8e8","opacity":1},"encoding":{
"x":{"field":"c","type":"quantitative","scale":{"domain":[-1,40.06],"nice":false,"zero":false},"axis":null},
"y":{"field":"r","type":"quantitative","scale":{"domain":[-29.6,9.47],"nice":false,"zero":false,"reverse":true},"axis":{"orient":"left","values":[0,1,2,3,4,5,6,7,8,9],"labelExpr":"['Fn','Bbi','Bbr','LGG','Pa','Fne','Lp','Lc','La','ETEC'][datum.value]","title":null,"domain":false,"ticks":false,"labelFont":"Liberation Sans","labelFontSize":24,"labelColor":"#111","labelAlign":"center","labelPadding":39,"labelFlush":false}}}},
{"data":{"name":"cells"},"transform":[{"aggregate":[{"op":"min","field":"r","as":"lo"},{"op":"max","field":"r","as":"hi"}],"groupby":["c"]}],"mark":{"type":"rule","color":"#3a3a3a","strokeWidth":3},"encoding":{"x":{"field":"c","type":"quantitative"},"y":{"field":"lo","type":"quantitative","scale":{"domain":[-29.6,9.47],"nice":false,"zero":false,"reverse":true},"axis":null},"y2":{"field":"hi"}}},
{"data":{"name":"cells"},"mark":{"type":"point","filled":true,"size":95,"color":"#3a3a3a","opacity":1},"encoding":{"x":{"field":"c","type":"quantitative"},"y":{"field":"r","type":"quantitative","scale":{"domain":[-29.6,9.47],"nice":false,"zero":false,"reverse":true},"axis":null}}},
{"data":{"values":[{"c":0,"n":52},{"c":1,"n":11},{"c":2,"n":8},{"c":3,"n":6},{"c":4,"n":6},{"c":5,"n":6},{"c":6,"n":5},{"c":7,"n":4},{"c":8,"n":4},{"c":9,"n":3},{"c":10,"n":3},{"c":11,"n":3},{"c":12,"n":3},{"c":13,"n":2},{"c":14,"n":2},{"c":15,"n":2},{"c":16,"n":2},{"c":17,"n":2},{"c":18,"n":2},{"c":19,"n":2},{"c":20,"n":2},{"c":21,"n":2},{"c":22,"n":2},{"c":23,"n":2},{"c":24,"n":2},{"c":25,"n":2},{"c":26,"n":2},{"c":27,"n":1},{"c":28,"n":1},{"c":29,"n":1},{"c":30,"n":1},{"c":31,"n":1},{"c":32,"n":1},{"c":33,"n":1},{"c":34,"n":1},{"c":35,"n":1},{"c":36,"n":1},{"c":37,"n":1},{"c":38,"n":1},{"c":39,"n":1}]},"layer":[
{"mark":{"type":"bar","orient":"vertical","size":21,"color":"#3a3a3a"},"encoding":{"x":{"field":"c","type":"quantitative"},"y":{"field":"n","type":"quantitative","scale":{"domain":[-21.96,60],"nice":false,"zero":false},"axis":{"orient":"left","values":[0,20,40,60],"title":"Metabolite Intersections","titleFont":"Liberation Sans","titleFontSize":28,"titleColor":"#111","titleX":-100,"titleY":411,"labelFont":"Liberation Sans","labelFontSize":24,"labelColor":"#444","tickSize":5,"tickColor":"#444","domain":false,"labelFlush":false,"labelPadding":3}}}},
{"mark":{"type":"text","font":"Liberation Sans","fontSize":22,"dy":-24,"baseline":"middle","align":"center","color":"#444"},"encoding":{"x":{"field":"c","type":"quantitative"},"y":{"field":"n","type":"quantitative","axis":null},"text":{"field":"n","type":"quantitative"}}}
],"resolve":{"scale":{"y":"shared"},"axis":{"y":"independent"}}},
{"data":{"values":[{"v":0}]},"mark":{"type":"rule","color":"#000","strokeWidth":4},"encoding":{"y":{"field":"v","type":"quantitative","scale":{"domain":[-21.96,60],"nice":false,"zero":false},"axis":null}}},
{"data":{"values":[{"c":-1,"a":60,"b":-1.3}]},"mark":{"type":"rule","color":"#444","strokeWidth":2},"encoding":{"x":{"field":"c","type":"quantitative"},"y":{"field":"a","type":"quantitative","scale":{"domain":[-21.96,60],"nice":false,"zero":false},"axis":null},"y2":{"field":"b"}}}
]}
]}
]}
